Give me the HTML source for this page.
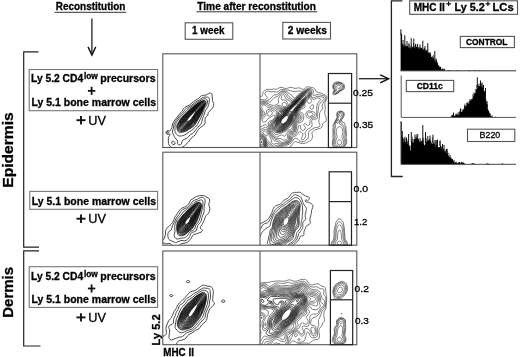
<!DOCTYPE html>
<html><head><meta charset="utf-8"><style>
html,body{margin:0;padding:0;background:#fff;overflow:hidden;width:520px;height:357px;}
svg{display:block;filter:blur(0.35px);}
text{font-family:"Liberation Sans",sans-serif;fill:#000;stroke:#000;stroke-width:0.3px;}
</style></head><body>
<svg width="520" height="357" viewBox="0 0 520 357">
<text x="55.8" y="10" font-size="10" font-weight="bold" textLength="69.6" lengthAdjust="spacingAndGlyphs" >Reconstitution</text>
<line x1="54.6" y1="12.3" x2="126.2" y2="12.3" stroke="#333" stroke-width="1"/>
<text x="197.3" y="9.6" font-size="10" font-weight="bold" textLength="118.6" lengthAdjust="spacingAndGlyphs" >Time after reconstitution</text>
<line x1="196.5" y1="11.8" x2="317.2" y2="11.8" stroke="#333" stroke-width="1"/>
<rect x="185.2" y="22.8" width="47.60000000000002" height="16.499999999999996" stroke="#555" stroke-width="1.1" fill="none"/>
<text x="192.1" y="34.2" font-size="10" font-weight="bold" textLength="32.3" lengthAdjust="spacingAndGlyphs" >1 week</text>
<rect x="282.8" y="22.4" width="47.69999999999999" height="16.6" stroke="#555" stroke-width="1.1" fill="none"/>
<text x="287.8" y="33.8" font-size="10" font-weight="bold" textLength="39.2" lengthAdjust="spacingAndGlyphs" >2 weeks</text>
<line x1="91.9" y1="18.5" x2="91.9" y2="54.5" stroke="#222" stroke-width="1.3"/>
<polyline points="88,46.9 91.9,55 95.7,46.9" fill="none" stroke="#111" stroke-width="1.4"/>
<polyline points="38.5,51.8 23.7,51.8 23.7,247.1 39,247.1" fill="none" stroke="#222" stroke-width="1.2"/>
<polyline points="39,250.9 23.7,250.9 23.7,346 40.5,346" fill="none" stroke="#222" stroke-width="1.2"/>
<text x="0" y="0" font-size="15.4" font-weight="bold" textLength="75.4" lengthAdjust="spacingAndGlyphs" transform="translate(12.7,187.7) rotate(-90)">Epidermis</text>
<text x="0" y="0" font-size="15.2" font-weight="bold" textLength="50.9" lengthAdjust="spacingAndGlyphs" transform="translate(12.7,317.8) rotate(-90)">Dermis</text>
<rect x="29.2" y="69.5" width="128.4" height="41.2" stroke="#777" stroke-width="1.1" fill="none"/>
<text x="31" y="82.0" font-size="10.3" font-weight="bold" textLength="52.2" lengthAdjust="spacingAndGlyphs" >Ly 5.2 CD4</text>
<text x="83.9" y="78.6" font-size="8.3" font-weight="bold" textLength="13.9" lengthAdjust="spacingAndGlyphs" >low</text>
<text x="100.3" y="82.0" font-size="10.4" font-weight="bold" textLength="55.3" lengthAdjust="spacingAndGlyphs" >precursors</text>
<line x1="87.89999999999999" y1="90.85" x2="95.3" y2="90.85" stroke="#111" stroke-width="1.8"/>
<line x1="91.6" y1="86.8" x2="91.6" y2="94.89999999999999" stroke="#111" stroke-width="1.8"/>
<text x="31.5" y="105.7" font-size="10.4" font-weight="bold" textLength="124.5" lengthAdjust="spacingAndGlyphs" >Ly 5.1 bone marrow cells</text>
<line x1="76.45" y1="120.2" x2="85.55" y2="120.2" stroke="#111" stroke-width="1.9"/>
<line x1="81.0" y1="116.0" x2="81.0" y2="124.4" stroke="#111" stroke-width="1.9"/>
<text x="88.2" y="124.89999999999999" font-size="12.5" font-weight="normal" textLength="17.7" lengthAdjust="spacingAndGlyphs" >UV</text>
<rect x="29.8" y="191.4" width="127.8" height="17.900000000000006" stroke="#777" stroke-width="1.1" fill="none"/>
<text x="31.7" y="204.7" font-size="10.4" font-weight="bold" textLength="124.3" lengthAdjust="spacingAndGlyphs" >Ly 5.1 bone marrow cells</text>
<line x1="76.45" y1="218.70000000000002" x2="85.55" y2="218.70000000000002" stroke="#111" stroke-width="1.9"/>
<line x1="81.0" y1="214.50000000000003" x2="81.0" y2="222.9" stroke="#111" stroke-width="1.9"/>
<text x="88.2" y="223.4" font-size="12.5" font-weight="normal" textLength="17.7" lengthAdjust="spacingAndGlyphs" >UV</text>
<rect x="29.2" y="266.7" width="128.4" height="40.69999999999999" stroke="#777" stroke-width="1.1" fill="none"/>
<text x="31" y="280.1" font-size="10.3" font-weight="bold" textLength="52.2" lengthAdjust="spacingAndGlyphs" >Ly 5.2 CD4</text>
<text x="83.9" y="276.70000000000005" font-size="8.3" font-weight="bold" textLength="13.9" lengthAdjust="spacingAndGlyphs" >low</text>
<text x="100.3" y="280.1" font-size="10.4" font-weight="bold" textLength="55.3" lengthAdjust="spacingAndGlyphs" >precursors</text>
<line x1="87.89999999999999" y1="288.5" x2="95.3" y2="288.5" stroke="#111" stroke-width="1.8"/>
<line x1="91.6" y1="284.45" x2="91.6" y2="292.55" stroke="#111" stroke-width="1.8"/>
<text x="31.5" y="303.0" font-size="10.4" font-weight="bold" textLength="124.5" lengthAdjust="spacingAndGlyphs" >Ly 5.1 bone marrow cells</text>
<line x1="76.45" y1="317.4" x2="85.55" y2="317.4" stroke="#111" stroke-width="1.9"/>
<line x1="81.0" y1="313.2" x2="81.0" y2="321.59999999999997" stroke="#111" stroke-width="1.9"/>
<text x="88.2" y="322.1" font-size="12.5" font-weight="normal" textLength="17.7" lengthAdjust="spacingAndGlyphs" >UV</text>
<clipPath id="c11"><rect x="162.8" y="53.8" width="97.19999999999999" height="93.7"/></clipPath><g clip-path="url(#c11)"><path d="M187.8,121.5 187.1,121.3 187.0,120.5 187.5,119.3 188.5,117.8 194.3,111.9 195.5,111.0 196.0,111.0 195.5,112.3 191.3,118.9 189.5,120.7 188.5,121.3 187.8,121.5 M187.8,122.1 186.8,122.1 186.5,121.8 186.4,121.3 186.7,120.0 187.8,118.3 189.7,116.0 194.5,111.2 196.0,110.0 197.0,109.7 197.1,110.3 196.5,111.4 191.8,118.8 189.8,120.9 187.8,122.1 M187.3,122.8 186.3,122.7 185.8,122.3 185.8,121.8 186.1,120.3 187.4,118.3 189.5,115.8 195.0,110.3 196.8,109.0 197.5,108.7 197.8,108.8 197.9,109.5 197.3,110.8 192.0,119.0 189.6,121.5 188.5,122.3 187.3,122.8 M187.3,123.3 186.5,123.5 185.8,123.4 185.4,123.0 185.2,122.5 185.5,120.8 186.8,118.5 189.1,115.8 195.0,109.9 197.3,108.2 198.0,107.9 198.5,108.0 198.7,108.8 198.0,110.3 192.4,119.0 189.8,121.8 188.5,122.7 187.3,123.3 M186.5,124.0 185.8,124.1 185.0,123.8 184.6,123.3 184.6,122.5 185.1,120.5 186.6,118.3 189.0,115.5 195.3,109.3 197.5,107.6 198.5,107.2 199.0,107.3 199.3,107.5 199.4,108.0 198.7,109.8 192.6,119.3 191.1,121.0 189.5,122.5 188.0,123.4 186.5,124.0 M186.5,124.6 185.5,124.7 184.7,124.5 184.2,124.0 184.0,123.3 184.1,122.3 184.5,121.0 186.0,118.5 188.8,115.3 195.5,108.7 198.3,106.8 199.3,106.6 199.8,106.8 199.9,107.8 199.2,109.5 193.0,119.3 191.5,121.1 189.8,122.7 188.0,123.9 186.5,124.6 M185.8,125.3 184.8,125.3 184.0,125.1 183.5,124.5 183.4,123.5 183.6,122.3 184.0,121.0 185.8,118.3 188.6,115.0 195.8,108.1 198.5,106.3 199.5,106.0 200.3,106.1 200.5,106.5 200.5,107.3 199.7,109.3 193.1,119.8 191.3,121.8 189.5,123.4 187.5,124.6 185.8,125.3 M185.8,125.8 184.5,126.0 183.7,125.8 183.0,125.1 182.8,124.3 182.9,123.0 183.3,121.8 185.2,118.5 188.2,115.0 195.8,107.8 198.8,105.8 200.0,105.4 200.8,105.6 201.1,106.0 201.1,106.8 200.3,108.8 193.5,119.7 191.8,121.8 189.8,123.6 187.8,125.0 185.8,125.8 M184.8,126.5 183.5,126.5 182.8,126.1 182.3,125.3 182.2,124.3 182.4,123.0 182.9,121.5 184.9,118.3 188.3,114.5 196.0,107.3 197.8,106.0 199.3,105.2 200.5,104.8 201.3,105.0 201.6,105.5 201.6,106.3 200.8,108.5 193.7,120.0 191.5,122.5 189.3,124.4 186.8,125.9 184.8,126.5 M185.0,127.0 183.5,127.2 182.5,126.9 181.8,126.0 181.6,125.0 181.8,123.5 182.3,122.0 184.3,118.5 187.9,114.5 196.0,106.9 197.8,105.6 199.5,104.7 200.8,104.3 201.8,104.5 202.1,105.0 202.2,105.8 201.4,108.0 195.6,117.8 194.1,120.0 192.0,122.5 189.5,124.7 187.3,126.1 185.0,127.0 M184.0,127.8 182.8,127.8 181.8,127.3 181.2,126.5 181.0,125.3 181.2,123.8 181.8,122.0 184.1,118.3 187.7,114.3 196.3,106.4 198.3,105.0 200.0,104.1 201.3,103.7 202.3,104.0 202.6,104.5 202.7,105.3 201.9,107.8 196.1,117.8 194.2,120.5 191.8,123.2 189.0,125.5 186.3,127.1 184.0,127.8 M184.3,128.3 182.8,128.4 181.5,128.1 180.8,127.3 180.4,126.0 180.6,124.3 181.2,122.5 182.2,120.5 183.7,118.3 187.5,114.0 196.5,105.9 198.5,104.5 200.3,103.6 201.8,103.2 202.8,103.5 203.1,104.0 203.2,105.0 202.3,107.5 196.6,117.5 194.8,120.3 192.3,123.2 189.5,125.6 186.8,127.3 184.3,128.3 M183.3,129.0 181.8,129.0 180.8,128.5 180.1,127.5 179.8,126.0 180.1,124.3 180.8,122.3 181.9,120.3 183.5,118.0 187.6,113.5 196.8,105.4 199.0,103.8 200.8,103.0 202.3,102.7 203.3,103.0 203.6,103.5 203.7,104.5 202.8,107.3 196.9,117.8 194.9,120.8 192.0,123.9 189.0,126.4 186.0,128.2 183.3,129.0 M183.8,129.5 182.0,129.7 180.5,129.3 179.6,128.3 179.2,127.0 179.4,125.0 180.0,123.3 181.0,121.0 182.7,118.5 184.7,116.0 187.2,113.5 196.8,105.0 199.0,103.5 201.0,102.5 202.8,102.2 203.8,102.5 204.1,103.0 204.2,104.0 203.5,106.5 197.6,117.3 195.7,120.3 193.2,123.3 190.0,126.1 186.8,128.3 183.8,129.5 M182.5,130.3 180.8,130.2 179.6,129.5 178.9,128.3 178.6,126.5 178.8,125.0 179.5,123.3 180.9,120.5 182.6,118.0 187.5,112.8 191.9,108.8 197.0,104.6 199.3,103.1 201.3,102.1 203.0,101.8 204.1,102.0 204.6,102.8 204.6,103.8 203.6,106.8 200.3,113.3 197.5,118.3 194.0,123.2 191.8,125.5 188.0,128.1 185.3,129.6 182.5,130.3 M183.0,130.8 180.8,130.9 179.4,130.3 178.4,128.8 177.9,126.8 178.0,125.5 178.4,124.3 182.1,118.0 186.3,113.6 191.0,109.1 197.0,104.3 199.3,102.9 201.8,101.7 203.5,101.3 204.5,101.5 205.0,102.3 205.1,103.3 203.9,106.5 200.4,114.0 197.2,119.5 194.2,124.0 191.9,126.3 187.3,129.2 185.3,130.2 183.0,130.8 M182.5,131.5 180.3,131.6 179.5,131.4 178.8,130.9 177.8,129.3 177.3,126.8 177.3,125.5 177.7,124.5 181.8,117.8 190.8,108.9 197.3,103.9 199.8,102.3 202.5,101.1 204.0,100.8 205.0,101.1 205.5,101.8 205.6,102.5 205.1,104.5 200.7,114.3 194.7,124.3 193.8,125.4 192.3,126.6 186.8,130.1 185.0,130.9 182.5,131.5 M181.5,132.5 180.5,132.6 179.5,132.5 178.8,132.1 178.1,131.5 177.2,129.5 176.7,126.5 176.8,125.3 177.2,124.3 181.5,117.5 190.5,108.7 197.3,103.6 199.5,102.2 203.0,100.5 204.3,100.3 205.3,100.6 205.9,101.3 206.1,102.0 206.0,103.0 205.7,104.0 203.3,108.9 201.0,114.5 195.2,124.5 194.3,125.6 192.8,126.9 186.8,130.8 185.3,131.4 181.5,132.5 M181.3,136.0 179.3,136.0 177.8,135.4 176.3,134.1 175.3,132.5 174.9,130.5 175.1,125.8 175.4,124.3 176.2,122.8 180.6,116.5 183.9,113.5 186.5,110.6 189.5,108.0 197.0,102.6 202.8,99.1 203.8,98.8 204.8,98.7 205.8,98.9 206.5,99.3 207.1,100.0 207.5,101.0 207.5,102.5 207.2,104.0 204.5,108.5 201.9,115.8 197.3,124.8 195.3,127.2 192.0,130.1 189.5,131.6 185.8,134.4 183.3,135.6 181.3,136.0 M179.8,145.0 178.6,144.8 177.6,143.8 177.5,143.3 177.6,141.8 177.4,140.8 174.2,136.5 172.5,132.5 172.5,131.0 173.4,128.0 173.9,124.3 174.7,122.5 179.4,116.0 182.8,112.7 185.2,109.5 186.3,108.5 191.5,105.3 195.5,102.1 199.6,99.8 202.5,97.6 203.8,97.2 205.3,97.1 207.5,97.1 208.5,97.4 209.2,98.3 209.4,99.5 209.2,102.0 208.7,104.5 207.7,107.3 205.8,110.0 205.0,111.6 203.9,115.3 202.4,119.0 201.7,122.5 201.1,123.8 196.6,128.8 193.5,132.8 192.8,133.4 190.3,134.5 188.3,137.1 187.3,138.0 183.8,139.5 183.0,140.0 182.2,141.3 181.4,144.0 180.6,144.8 179.8,145.0 M167.8,133.3 167.1,133.0 166.9,132.5 167.0,131.9 167.5,131.6 168.3,131.8 168.6,132.3 168.4,133.0 167.8,133.3 M173.8,144.5 172.5,144.3 171.8,143.3 171.8,142.0 172.5,141.1 173.0,141.1 173.8,141.4 174.8,142.3 175.3,143.0 175.3,143.5 175.0,144.0 173.8,144.5 M175.5,148.3 173.8,148.4 172.3,147.9 170.3,146.5 168.9,144.8 168.4,143.3 168.3,138.0 168.6,137.0 169.8,135.3 170.0,134.3 169.8,133.9 168.0,134.4 166.8,133.9 166.1,132.8 166.0,132.0 166.3,131.4 166.8,130.9 167.5,130.6 168.3,130.6 169.5,131.1 170.0,130.9 171.8,127.8 172.7,123.8 173.6,121.8 178.7,115.0 181.8,111.5 183.6,108.8 184.8,107.5 186.0,106.7 189.8,104.8 194.8,100.7 198.7,98.5 200.5,96.4 201.3,95.8 202.5,95.4 206.1,95.0 209.8,93.0 210.5,93.0 211.3,93.3 211.8,93.8 212.1,94.8 212.4,100.3 212.6,101.3 213.7,103.5 213.6,105.5 213.1,107.0 212.3,108.3 208.5,112.3 208.2,113.0 207.7,115.3 206.0,116.8 205.4,117.8 205.0,119.3 205.1,122.8 204.6,124.3 203.9,125.0 200.8,127.2 198.6,129.3 197.3,131.0 195.0,135.0 194.0,135.9 191.5,137.8 188.5,142.0 184.3,145.9 182.8,146.9 181.0,147.7 175.5,148.3" fill="none" stroke="#000" stroke-width="0.7" stroke-linejoin="round"/></g>
<clipPath id="c12"><rect x="260.0" y="53.8" width="96.80000000000001" height="93.7"/></clipPath><g clip-path="url(#c12)"><path d="M282.5,123.9 281.5,123.7 280.9,122.8 281.0,121.6 281.7,119.8 283.0,118.2 284.8,116.6 286.5,115.6 287.3,115.5 287.8,115.6 288.2,116.3 288.3,117.6 288.0,118.8 287.2,120.3 286.3,121.6 285.0,122.7 283.8,123.5 282.5,123.9 M282.0,124.6 280.8,124.2 280.4,123.8 280.2,123.1 280.5,121.3 281.4,119.6 283.0,117.6 285.0,115.9 287.3,114.6 288.0,114.5 288.5,114.6 289.0,115.6 288.9,117.3 288.5,118.8 287.6,120.6 286.4,122.1 285.0,123.3 283.5,124.2 282.0,124.6 M282.8,125.1 281.8,125.3 280.8,125.2 280.1,124.8 279.7,124.3 279.5,123.6 279.6,122.6 280.4,120.3 282.0,118.1 284.3,115.9 287.5,113.7 288.5,113.3 289.3,113.2 289.5,113.4 289.7,114.1 289.7,116.3 289.3,118.1 288.6,119.8 287.4,121.6 286.0,123.1 284.3,124.4 282.8,125.1 M282.3,125.9 281.3,126.1 280.3,125.9 279.5,125.5 279.0,124.8 278.8,123.8 278.9,122.8 279.3,121.6 280.0,120.1 281.6,117.8 284.0,115.6 287.5,113.0 291.0,111.0 291.2,111.3 290.2,117.1 289.6,118.8 288.8,120.3 287.4,122.3 285.8,123.9 284.0,125.2 282.3,125.9 M282.0,126.6 280.8,126.8 279.5,126.6 278.8,126.1 278.2,125.1 278.1,123.8 278.3,122.6 278.9,121.1 279.9,119.3 282.8,116.1 289.8,110.6 295.0,105.3 296.5,104.1 297.3,103.8 297.6,103.8 297.7,104.3 297.1,105.6 293.1,110.3 292.1,111.8 291.4,113.6 290.5,118.1 288.9,121.1 287.5,122.9 285.8,124.6 283.8,125.9 282.0,126.6 M281.8,127.4 280.3,127.6 279.0,127.3 278.0,126.6 277.5,125.6 277.4,124.3 277.7,122.8 278.3,121.1 279.4,119.3 282.3,116.0 289.3,110.3 295.3,104.3 297.5,102.6 298.5,102.2 299.0,102.2 299.3,102.6 299.2,103.1 298.3,104.8 293.9,110.3 292.7,112.1 292.0,113.8 291.0,118.1 289.3,121.3 287.7,123.3 285.8,125.2 283.8,126.5 281.8,127.4 M280.0,128.3 278.8,128.2 277.7,127.6 277.0,126.6 276.7,125.3 276.8,123.8 277.3,122.1 278.2,120.3 279.3,118.6 282.0,115.6 288.8,110.2 295.8,103.3 298.5,101.4 299.5,101.0 300.3,101.1 300.5,101.6 300.4,102.1 299.4,104.1 294.5,110.3 293.3,112.1 292.7,113.6 291.5,118.3 290.7,120.1 289.4,122.1 287.3,124.5 284.8,126.6 282.3,127.9 280.0,128.3 M280.5,129.1 278.8,129.1 277.5,128.6 276.5,127.7 276.0,126.3 276.0,124.8 276.4,122.8 277.3,120.8 278.5,118.8 281.6,115.3 288.5,109.8 296.3,102.4 299.5,100.2 300.5,99.9 301.3,100.0 301.5,100.3 301.5,101.1 300.4,103.3 298.9,105.6 295.0,110.3 293.9,112.1 293.3,113.6 292.2,118.1 291.3,120.1 290.0,122.1 287.8,124.8 285.3,127.0 282.8,128.4 280.5,129.1 M280.8,129.9 279.0,130.0 277.3,129.6 276.0,128.6 275.4,127.3 275.2,125.6 275.6,123.3 276.4,121.3 277.8,119.1 279.3,117.1 281.3,115.0 288.3,109.5 296.0,102.1 298.3,100.4 300.0,99.3 301.5,98.8 302.3,99.1 302.5,99.6 302.4,100.3 301.3,102.8 299.4,105.6 295.9,109.8 294.6,111.8 294.0,113.4 292.9,117.8 291.9,120.1 290.5,122.3 288.3,125.0 285.8,127.3 283.0,129.1 280.8,129.9 M280.5,130.6 278.3,130.8 276.5,130.2 275.2,129.1 274.3,127.3 273.9,125.3 274.1,124.1 274.6,122.8 276.9,119.6 281.0,113.8 284.5,111.8 287.7,109.6 294.0,103.6 298.5,99.8 301.3,98.1 302.3,97.7 303.0,97.8 303.3,98.1 303.4,98.8 302.7,101.1 300.6,104.6 296.8,109.2 295.5,111.1 294.7,113.1 294.5,116.1 294.3,117.1 291.6,121.6 288.9,125.1 286.5,127.4 283.5,129.5 280.5,130.6 M279.0,131.6 276.8,131.4 275.8,131.0 274.8,130.1 273.3,127.6 272.8,126.1 272.7,124.8 272.9,124.1 273.4,123.1 276.0,119.9 278.1,116.8 279.8,113.1 280.5,112.5 283.8,111.6 286.4,110.1 288.8,108.2 293.3,103.8 300.0,98.2 302.3,96.8 303.3,96.5 304.0,96.7 304.5,97.3 304.3,98.3 302.2,102.8 300.7,105.1 297.0,109.4 295.8,111.4 295.3,113.3 295.6,116.6 295.3,117.6 294.7,118.6 289.6,125.3 287.5,127.5 285.0,129.3 283.0,130.4 281.0,131.2 279.0,131.6 M261.3,142.9 260.9,142.6 260.8,142.1 261.0,141.6 261.3,141.4 261.6,141.6 261.8,142.1 261.6,142.6 261.3,142.9 M278.5,132.6 277.0,132.7 276.0,132.5 275.0,131.9 274.3,131.2 273.3,129.8 272.4,128.1 271.8,126.3 271.6,125.1 271.8,124.1 272.1,123.3 275.3,120.1 277.3,117.2 277.9,115.6 278.4,113.1 278.9,112.1 279.4,111.6 280.0,111.3 282.3,111.3 283.5,111.1 286.1,109.8 288.5,108.1 292.2,104.3 301.0,96.8 302.3,96.1 303.5,95.6 304.5,95.5 305.3,95.8 305.6,96.6 305.3,97.8 301.9,104.1 300.9,105.6 297.5,109.2 296.3,111.3 296.0,113.1 296.5,116.6 296.2,117.8 289.9,126.8 288.8,128.0 283.8,130.9 281.3,132.0 278.5,132.6 M262.0,145.1 261.3,145.2 260.5,144.8 259.7,143.8 259.2,142.6 259.3,141.3 259.8,140.1 260.5,139.2 261.3,138.9 262.0,139.1 262.5,139.5 263.0,140.3 263.3,141.3 263.0,143.6 262.5,144.6 262.0,145.1" fill="none" stroke="#000" stroke-width="0.7" stroke-linejoin="round"/><path d="M277.0,134.7 276.0,134.8 275.3,134.4 273.3,132.1 271.3,128.1 270.7,126.3 270.6,124.8 270.8,123.8 271.2,123.1 274.5,120.1 276.4,117.6 277.0,116.0 277.4,112.6 278.1,111.1 278.8,110.4 279.5,110.2 282.0,110.6 283.5,110.5 286.2,109.3 288.3,107.8 291.6,104.3 296.3,100.6 301.0,96.3 302.5,95.4 304.0,94.8 305.5,94.6 306.2,94.8 306.6,95.3 306.6,96.1 305.9,98.1 303.8,101.4 301.5,105.3 298.0,109.1 296.8,111.1 296.5,112.8 297.3,116.1 297.3,117.6 296.8,118.6 294.4,121.6 292.8,124.1 292.3,125.6 292.1,127.8 291.7,128.8 290.8,129.6 287.5,130.2 283.8,132.2 279.4,133.6 277.0,134.7 M262.3,146.4 261.3,146.4 260.0,145.5 258.9,144.1 258.4,142.6 258.5,141.1 259.1,139.3 260.0,138.2 261.0,137.7 262.0,137.9 263.0,138.7 263.7,139.8 264.0,141.1 264.0,142.6 263.6,144.3 263.0,145.7 262.3,146.4 M277.5,136.9 276.3,137.0 275.2,136.6 274.1,135.6 272.8,133.8 271.8,132.0 270.9,129.8 269.8,126.6 269.5,124.6 269.7,123.6 270.2,122.6 274.0,119.8 275.5,117.8 276.2,115.8 276.2,112.6 277.1,110.3 278.0,109.4 278.8,109.1 279.8,109.1 281.8,109.8 283.0,109.9 284.5,109.6 286.3,108.8 288.3,107.3 291.2,104.1 295.5,100.8 301.0,95.8 302.5,94.9 304.8,94.0 306.3,93.6 307.0,93.7 307.5,94.3 307.6,95.3 307.3,96.6 306.8,97.8 304.0,101.6 301.9,105.6 298.6,108.8 297.3,110.8 297.0,111.8 297.1,112.8 298.2,116.1 298.2,117.6 297.7,118.8 295.2,121.6 294.0,123.6 293.5,125.3 293.2,128.3 292.6,129.8 291.5,130.8 288.5,131.5 287.3,132.2 286.4,133.3 285.5,135.5 285.0,136.1 284.3,136.2 282.3,135.1 281.3,135.0 280.1,135.3 277.5,136.9 M269.3,116.1 268.4,116.1 267.9,115.6 267.6,114.6 267.7,113.3 268.1,112.1 268.7,111.3 269.5,110.9 270.3,110.8 271.0,111.1 271.9,111.8 272.3,112.6 272.3,113.3 272.0,114.1 271.1,115.1 270.3,115.7 269.3,116.1 M258.0,140.3 258.7,138.6 259.5,137.4 260.3,136.9 261.3,136.8 262.5,137.3 263.8,138.6 264.4,139.8 264.7,141.6 264.4,143.6 263.8,145.6 263.0,147.1 262.3,147.6 261.3,147.4 260.0,146.5 258.7,144.8 258.0,143.4 M284.5,140.1 283.0,140.1 281.1,138.8 280.3,138.5 276.8,138.4 275.0,137.9 274.0,137.1 272.8,135.6 271.4,133.6 270.7,132.1 268.3,124.8 268.1,122.8 268.5,122.1 269.1,121.6 272.8,119.8 274.0,118.8 274.6,117.8 274.9,116.8 274.9,115.8 274.5,115.2 274.0,115.0 273.3,115.3 268.0,118.8 267.2,119.6 266.1,121.1 265.4,121.6 264.5,121.9 263.5,122.0 262.8,121.7 262.4,121.3 262.2,120.1 262.7,118.8 263.5,117.8 265.2,116.3 265.8,115.3 266.7,110.6 267.8,109.7 269.8,109.2 271.0,109.5 273.5,110.9 274.5,111.1 275.3,110.7 277.3,108.5 278.0,108.1 278.8,107.9 279.8,108.0 282.8,109.2 284.0,109.2 285.3,108.8 287.7,107.3 290.8,103.8 295.4,100.6 301.0,95.3 302.5,94.4 306.0,92.9 307.0,92.7 307.8,92.8 308.3,93.6 308.3,94.6 308.1,96.3 307.5,97.8 304.3,101.9 302.2,105.8 299.0,108.9 297.8,110.8 297.6,112.6 298.0,113.8 299.2,116.1 299.3,117.8 298.7,119.1 296.0,121.6 294.9,123.3 294.4,124.8 294.1,128.1 293.6,129.8 293.0,130.8 292.3,131.4 289.3,132.5 288.3,133.2 287.8,133.8 287.5,134.8 287.3,137.6 287.1,138.6 286.3,139.5 284.5,140.1 M258.0,138.5 258.8,137.1 259.8,136.2 260.8,135.9 262.0,136.3 263.3,137.1 264.3,138.3 265.0,139.8 265.2,141.6 265.0,143.6 264.3,145.8 263.5,147.7 262.8,148.5 261.8,148.5 260.8,148.0 259.3,146.4 258.0,144.7 M283.0,142.4 281.3,142.2 278.7,140.3 275.3,139.3 273.8,138.3 270.6,134.1 268.0,127.2 267.3,126.0 266.5,125.3 265.5,124.9 264.5,125.0 262.8,125.7 259.8,127.3 259.0,127.4 258.5,127.1 258.3,126.1 259.6,121.3 261.6,118.1 264.1,115.1 264.6,113.8 264.4,112.3 262.7,110.1 262.0,108.6 261.7,107.3 261.9,106.3 262.4,105.6 263.0,105.2 263.8,105.0 264.8,105.0 265.8,105.6 267.0,106.9 267.8,107.4 270.5,107.9 273.8,109.2 274.8,109.0 277.3,107.1 278.8,106.7 280.0,106.9 282.8,108.4 283.8,108.5 285.0,108.3 286.5,107.6 287.8,106.6 290.0,103.3 293.0,101.8 294.9,100.6 299.5,96.1 301.0,94.9 306.5,92.1 307.5,91.8 308.3,91.9 308.9,92.6 309.0,93.8 308.7,96.3 308.1,98.1 307.5,98.9 304.8,101.8 302.5,106.3 299.4,109.1 298.3,110.8 298.1,111.8 298.3,112.8 300.2,115.3 300.6,116.3 300.6,117.8 300.2,119.1 299.3,120.1 296.8,121.9 295.8,123.2 295.2,124.8 294.8,128.8 293.8,131.2 292.5,132.3 289.8,133.5 288.9,134.3 288.6,135.6 288.6,138.6 288.3,139.6 286.7,140.8 284.5,141.9 283.0,142.4 M258.0,136.9 258.8,135.8 259.8,135.1 261.0,135.1 262.3,135.7 263.8,136.8 264.8,138.1 265.5,139.6 265.7,141.3 265.5,143.6 264.6,146.6 263.8,148.3 263.0,149.3 262.0,149.4 261.0,149.0 259.5,147.5 258.0,145.6 M258.0,120.4 259.8,118.9 261.6,116.6 262.6,115.1 263.1,113.8 263.0,113.1 262.7,112.1 259.2,106.3 259.4,105.6 260.2,105.1 262.8,104.0 265.0,103.9 266.3,104.3 268.8,105.9 273.8,107.4 274.8,107.2 277.8,105.6 279.5,105.3 280.5,105.7 283.0,107.5 284.0,107.7 285.0,107.6 286.3,107.1 287.3,106.3 288.0,105.1 288.1,104.1 287.5,102.7 285.8,100.2 284.8,99.9 282.0,100.0 281.3,99.4 281.2,98.3 281.5,96.8 282.1,95.3 282.8,94.6 283.5,94.5 284.2,95.1 285.5,98.1 286.3,99.2 289.0,100.4 290.8,101.5 291.8,101.7 293.0,101.3 295.0,100.1 299.5,95.6 301.8,94.0 307.3,91.2 308.5,91.2 309.4,91.8 309.6,92.6 309.6,93.8 308.9,98.3 308.6,99.3 306.5,100.7 305.5,101.6 304.5,103.1 303.5,106.1 303.0,106.8 300.0,109.1 299.3,110.0 298.9,110.8 298.8,111.8 299.3,112.8 301.4,114.6 302.0,115.6 302.0,117.6 301.6,119.6 300.6,120.8 297.8,122.2 296.5,123.5 296.0,124.8 295.6,128.6 294.8,131.1 294.2,132.1 293.5,132.7 290.8,134.1 290.0,134.8 289.6,135.8 289.5,139.1 289.1,140.1 288.3,140.9 284.3,143.0 283.0,143.4 282.0,143.5 280.1,143.1 277.3,141.4 274.3,140.8 273.3,139.8 270.0,134.8 267.5,128.8 266.8,127.8 266.0,127.3 265.3,127.3 264.5,127.5 259.8,129.9 258.8,130.0 258.0,129.7 M309.5,116.6 308.8,116.4 308.3,116.0 307.8,115.3 307.4,114.3 307.5,113.6 307.8,112.8 308.3,112.4 309.0,112.1 310.3,112.3 311.8,112.9 312.7,113.6 313.1,114.3 312.8,115.1 312.0,115.7 310.8,116.3 309.5,116.6 M258.0,135.1 258.5,134.4 259.3,133.9 260.0,133.9 261.3,134.3 262.8,135.2 264.1,136.3 265.2,137.6 265.9,138.8 266.3,140.8 266.1,143.1 264.6,147.8 263.6,149.6 M260.9,149.6 258.0,146.3 M258.0,104.1 262.0,103.1 264.8,102.9 266.8,103.2 270.0,104.6 273.0,105.4 274.5,105.4 276.0,104.8 277.7,103.8 278.4,103.1 278.6,102.1 278.2,99.8 278.4,98.8 281.2,93.8 281.8,93.3 282.5,92.9 283.8,92.9 285.0,93.5 285.7,94.3 286.8,96.6 287.6,97.6 291.5,100.4 292.5,100.8 293.8,100.4 295.1,99.6 299.3,95.4 300.8,94.2 306.5,91.0 307.8,90.5 308.8,90.5 309.8,91.0 310.2,91.8 310.3,92.8 309.9,95.8 309.8,97.3 310.2,98.3 311.6,100.3 311.7,101.1 311.5,101.8 310.3,103.1 309.0,103.5 308.5,103.3 307.5,101.7 307.0,101.5 306.3,101.8 305.5,102.6 304.9,103.8 304.8,104.8 305.1,106.3 304.8,107.1 303.8,108.1 301.0,109.4 300.0,110.3 299.8,111.1 300.1,111.8 300.8,112.3 302.8,113.3 303.7,114.6 303.8,116.6 303.4,119.6 302.6,121.1 301.8,122.0 300.8,122.5 298.4,123.1 297.3,124.1 296.9,125.1 296.5,128.6 295.4,132.1 294.3,133.5 291.8,134.7 291.0,135.4 290.7,136.3 290.4,139.1 289.7,140.6 288.0,141.9 284.5,143.8 283.0,144.3 280.8,144.4 276.8,143.3 276.0,143.4 274.3,144.2 273.3,144.1 272.3,143.4 271.6,142.3 270.9,138.8 269.1,135.3 267.3,130.6 266.8,129.9 266.0,129.4 265.3,129.3 264.0,129.6 261.6,130.8 261.2,131.3 260.9,132.1 261.0,132.6 261.6,133.3 264.5,135.8 265.7,137.1 266.4,138.1 266.9,139.3 267.0,141.1 266.7,142.8 265.1,147.8 264.2,149.6 M285.3,106.6 286.0,106.2 286.5,105.6 286.7,104.8 286.5,104.0 285.8,103.0 284.8,102.4 283.8,102.3 283.0,102.6 282.4,103.1 282.1,103.8 282.1,104.6 282.4,105.3 283.0,106.1 283.8,106.6 285.3,106.6 M258.0,118.9 259.3,118.1 260.8,116.4 261.7,114.8 261.9,113.6 261.6,112.1 260.5,110.1 259.5,108.9 258.0,108.0 M308.5,118.3 307.8,118.1 307.0,117.3 305.8,114.8 305.8,114.1 306.0,113.1 307.0,111.6 308.0,110.9 309.3,110.8 313.8,112.0 314.5,112.4 315.0,113.3 315.2,114.3 315.0,115.1 314.5,115.8 309.8,118.0 308.5,118.3 M260.1,149.6 258.0,147.0 M258.0,102.8 261.8,102.1 269.5,102.0 270.5,101.8 271.1,101.3 272.5,99.3 273.4,98.3 274.8,97.5 278.0,96.1 278.8,95.3 280.8,92.5 281.5,92.0 282.5,91.7 284.5,91.9 286.1,92.6 286.9,93.3 288.2,95.6 289.1,96.6 292.5,99.4 293.0,99.6 293.8,99.6 295.5,98.5 298.8,95.1 300.5,93.7 306.5,90.4 308.5,89.8 310.0,90.1 310.9,91.1 311.1,92.1 310.6,95.3 310.6,96.6 311.1,97.6 312.3,98.7 313.5,99.5 314.3,99.5 316.5,98.2 318.0,97.9 320.0,98.6 320.7,99.3 320.3,100.1 317.8,103.1 317.0,105.1 316.8,106.8 316.6,115.1 316.3,116.6 315.3,117.4 312.0,118.3 310.7,119.3 310.1,120.6 309.7,124.1 309.3,125.0 308.8,125.4 308.3,125.5 307.5,125.4 305.3,123.5 304.5,123.6 304.0,124.0 303.7,124.6 303.7,125.1 305.0,126.6 305.3,127.6 305.0,128.8 304.3,129.9 303.5,130.4 302.8,130.5 302.0,130.3 301.4,129.8 300.9,129.1 300.6,128.3 300.7,125.8 300.3,125.3 299.3,125.2 298.7,125.8 298.1,128.1 296.2,133.6 295.1,134.6 293.0,135.5 292.3,136.1 291.8,136.9 290.8,140.3 290.1,141.3 289.3,142.0 284.5,144.8 283.3,145.3 281.5,145.4 277.5,145.1 274.0,146.2 273.3,146.0 272.5,145.6 269.5,142.1 269.0,141.7 268.5,141.6 268.0,142.0 267.3,143.4 264.8,149.6 M312.7,109.1 313.3,108.1 313.5,106.3 313.4,105.1 312.8,104.6 311.8,105.0 310.8,105.8 310.1,106.8 309.9,107.8 310.2,108.6 310.9,109.1 311.8,109.3 312.7,109.1 M258.0,117.6 259.0,117.0 260.0,115.9 260.7,114.6 260.9,113.6 260.6,112.3 260.0,111.0 259.1,110.1 258.0,109.4 M267.1,135.6 267.3,134.8 267.1,133.6 266.8,132.5 266.3,131.7 265.8,131.3 265.0,131.1 264.3,131.2 263.5,131.6 263.1,132.1 263.0,132.6 263.7,133.8 266.0,135.6 266.8,135.8 267.1,135.6 M259.4,149.6 258.0,147.8 M258.0,101.7 260.3,101.2 265.5,101.1 268.0,100.4 269.7,99.3 273.5,95.3 274.5,94.9 276.5,94.8 277.5,94.4 278.3,93.9 280.3,91.6 281.0,91.1 282.0,90.8 284.8,91.0 287.3,91.8 290.0,94.2 292.2,95.6 293.6,97.8 294.0,98.1 294.5,98.1 295.5,97.5 298.2,94.6 299.8,93.3 303.6,91.6 306.8,89.7 308.5,89.2 310.5,89.5 311.3,90.0 311.7,90.6 311.9,91.8 311.3,94.6 311.3,95.8 311.7,96.8 312.5,97.5 313.3,97.7 314.0,97.7 316.8,96.5 318.5,96.4 323.3,97.3 324.0,97.7 324.4,98.3 324.2,99.1 323.8,99.8 320.0,103.2 319.3,104.2 318.8,105.3 318.5,106.8 318.3,109.8 317.8,112.8 317.7,116.6 317.3,118.1 316.8,118.8 316.3,119.1 313.3,119.2 312.5,119.5 312.0,120.1 311.7,121.3 312.1,124.8 311.8,126.3 311.4,127.1 310.6,127.8 308.3,128.9 307.3,129.6 305.7,131.6 305.1,132.6 305.0,133.3 305.7,135.3 305.7,136.6 305.1,137.8 304.0,139.0 303.3,139.6 302.5,139.8 301.8,139.7 301.4,139.3 301.4,138.3 302.9,135.1 303.1,133.8 302.5,133.1 301.4,132.3 300.0,131.8 299.3,131.7 298.5,132.3 297.4,134.3 296.5,135.3 295.6,135.8 293.8,136.6 293.0,137.1 292.5,137.9 291.5,140.6 290.3,142.1 286.9,144.1 284.3,145.9 282.8,146.3 278.3,146.4 277.0,146.7 274.8,147.7 273.8,147.8 272.5,147.1 269.5,144.0 268.5,143.7 268.0,143.9 267.3,144.9 265.3,149.6 M258.0,116.5 259.3,115.3 259.8,114.5 259.9,113.6 259.8,112.6 259.4,111.8 258.8,111.0 258.0,110.5 M258.9,149.6 258.0,148.5 M258.0,100.1 259.3,99.6 260.5,99.5 264.5,100.0 265.8,99.6 266.5,99.1 267.1,98.3 267.2,97.3 266.8,96.6 265.2,94.8 264.9,93.6 265.4,92.3 266.5,91.4 268.3,91.1 271.0,91.7 273.8,91.6 276.8,92.1 278.0,91.6 280.3,89.8 281.5,89.4 288.5,90.2 292.2,91.3 295.5,91.7 298.8,90.9 301.3,91.2 302.5,91.1 303.9,90.6 307.5,88.5 308.8,88.3 310.3,88.4 312.2,89.1 313.2,90.1 313.4,91.6 312.8,94.6 312.9,95.1 313.3,95.4 314.0,95.5 317.0,94.7 319.5,94.7 324.5,96.1 325.3,96.6 325.7,97.3 325.8,98.3 325.4,99.6 322.9,103.6 322.2,105.3 322.1,106.3 322.9,108.1 322.8,108.8 320.5,111.2 319.6,113.3 319.4,117.6 318.8,121.1 318.9,122.1 319.9,124.8 319.9,125.8 319.4,126.6 318.0,127.3 315.3,127.6 314.3,127.9 309.2,131.1 308.7,131.8 308.3,132.8 308.6,136.6 308.4,137.8 307.4,139.1 304.3,141.4 302.5,141.9 300.8,141.6 299.0,140.6 297.3,138.5 296.3,138.2 295.0,138.3 293.8,139.0 292.0,141.8 291.0,143.0 290.0,143.7 287.4,145.1 286.6,145.8 285.3,147.6 284.8,148.0 283.8,148.2 281.3,147.8 279.5,147.9 278.0,148.4 275.5,149.6 M258.0,114.1 258.0,113.0 M272.8,149.6 270.0,146.3 268.8,145.6 268.0,145.8 267.5,146.4 266.0,149.6 M258.0,98.0 260.8,96.8 261.8,96.3 262.4,95.3 262.9,92.8 263.5,91.6 265.0,90.3 267.0,89.4 268.3,89.3 271.0,89.4 273.8,89.0 276.5,89.2 277.5,88.9 279.5,87.7 281.0,87.4 282.3,87.6 284.8,88.4 286.3,88.5 291.0,87.2 292.0,87.4 294.0,88.2 295.0,88.4 299.0,87.8 299.8,88.0 301.8,89.1 303.0,89.3 304.4,88.8 306.8,86.9 307.5,86.7 312.5,87.6 313.8,88.1 314.9,89.1 316.0,91.2 316.8,92.0 320.3,92.9 325.0,95.0 325.9,95.6 326.5,96.3 326.8,97.3 326.6,98.6 325.1,102.3 324.8,103.8 324.8,104.8 325.4,108.6 324.6,113.3 324.9,114.6 326.2,117.8 326.3,120.0 325.9,121.1 325.3,122.0 323.3,123.1 322.7,123.6 322.1,126.3 321.7,127.3 321.0,127.9 320.0,128.4 315.3,129.7 313.8,130.6 312.5,131.8 312.0,132.6 311.9,133.3 312.5,135.8 312.3,137.8 311.6,139.6 310.5,140.7 305.8,143.0 303.5,143.6 301.0,143.3 295.8,141.7 294.5,141.8 293.3,142.9 291.3,146.0 289.0,147.2 287.0,149.6 M270.7,149.6 269.5,148.2 268.8,147.8 268.0,148.0 266.9,149.6" fill="none" stroke="#000" stroke-width="0.5" stroke-linejoin="round"/></g>
<clipPath id="c21"><rect x="162.8" y="152.2" width="97.19999999999999" height="93.0"/></clipPath><g clip-path="url(#c21)"><path d="M186.5,224.2 185.5,224.3 185.1,223.7 185.1,222.7 185.7,221.2 186.7,219.7 188.0,218.3 189.5,217.1 190.5,216.9 190.6,217.4 190.5,218.4 189.3,221.4 188.0,223.1 186.5,224.2 M186.0,225.0 185.0,224.9 184.5,224.0 184.6,222.7 185.3,221.1 186.5,219.4 188.0,217.8 190.5,215.7 191.6,215.2 191.7,215.7 191.3,217.4 189.5,221.7 187.8,223.9 186.0,225.0 M186.3,225.4 185.5,225.6 184.8,225.6 184.3,225.2 184.1,224.7 184.1,223.2 184.8,221.2 186.0,219.4 187.5,217.7 191.8,213.7 193.0,213.0 193.2,213.4 193.0,214.3 190.1,221.4 188.3,224.0 187.3,224.9 186.3,225.4 M185.8,226.2 185.0,226.3 184.3,226.1 183.8,225.7 183.5,225.1 183.6,223.2 184.5,221.0 185.8,219.1 187.5,217.2 192.5,212.2 193.3,211.7 194.0,211.4 194.4,211.9 194.0,213.4 190.3,221.8 189.3,223.3 188.1,224.7 187.0,225.6 185.8,226.2 M185.0,226.9 184.3,226.9 183.5,226.5 183.0,225.2 183.2,223.2 184.3,220.7 186.3,218.0 192.3,211.8 193.8,210.6 194.5,210.3 194.9,210.4 195.2,211.2 194.8,212.8 190.3,222.4 189.1,224.2 187.8,225.5 186.3,226.5 185.0,226.9 M185.3,227.4 184.3,227.6 183.5,227.4 183.0,226.9 182.5,225.9 182.6,223.7 183.8,220.8 186.0,217.8 192.5,211.0 194.3,209.7 195.0,209.4 195.5,209.6 195.9,210.4 195.5,212.2 190.9,222.2 189.7,223.9 188.3,225.6 186.8,226.8 185.3,227.4 M184.5,228.2 183.5,228.1 182.8,227.8 182.3,227.2 182.0,226.2 181.9,224.9 182.2,223.7 183.5,220.5 185.8,217.5 192.5,210.5 194.5,208.9 195.3,208.7 196.0,208.8 196.3,209.2 196.5,209.9 196.0,211.9 191.0,222.7 189.5,224.8 187.8,226.5 186.0,227.7 184.5,228.2 M184.8,228.7 183.8,228.8 182.8,228.6 182.0,227.9 181.5,226.9 181.4,225.7 181.6,224.2 182.2,222.4 183.0,220.7 185.5,217.3 192.8,209.8 195.0,208.1 195.8,207.9 196.5,208.1 196.8,208.4 197.0,209.2 196.6,211.4 191.6,222.4 190.0,224.7 188.3,226.6 186.5,228.0 184.8,228.7 M184.0,229.4 182.8,229.4 181.9,228.9 181.3,228.1 180.9,226.9 180.9,225.4 181.2,223.9 182.8,220.4 185.4,216.9 192.8,209.3 195.3,207.5 196.3,207.3 196.9,207.4 197.4,207.9 197.5,208.7 197.1,211.2 191.7,222.9 190.0,225.4 188.0,227.4 186.0,228.8 184.0,229.4 M184.3,230.0 183.0,230.1 181.8,229.7 180.9,228.9 180.5,227.7 180.4,226.2 180.7,224.4 181.2,222.7 182.2,220.7 183.5,218.7 185.0,216.7 192.8,208.8 195.3,207.0 196.5,206.6 197.3,206.8 197.8,207.3 198.0,208.2 197.6,210.7 192.3,222.7 190.5,225.3 188.5,227.5 186.3,229.1 184.3,230.0 M183.5,230.7 182.3,230.7 181.1,230.2 180.3,229.2 179.9,227.9 179.9,226.2 180.2,224.4 180.9,222.4 181.9,220.4 183.2,218.4 184.9,216.4 193.0,208.2 194.5,207.0 195.8,206.3 197.0,206.0 197.8,206.2 198.3,206.8 198.5,207.7 198.4,208.9 198.1,210.4 193.9,220.2 192.4,223.2 190.5,225.9 188.3,228.2 185.8,229.9 183.5,230.7 M184.0,231.2 182.3,231.4 181.0,231.0 180.1,230.2 179.5,228.9 179.3,227.2 179.6,225.2 180.3,222.9 181.3,220.7 182.8,218.4 184.6,216.2 192.8,208.0 194.3,206.7 195.8,205.8 197.0,205.4 198.0,205.6 198.7,206.2 198.9,207.2 198.9,208.4 198.6,209.9 197.6,212.4 193.1,222.7 191.2,225.7 189.0,228.2 186.5,230.1 184.0,231.2 M183.3,231.9 181.5,231.9 180.3,231.4 179.4,230.4 178.9,228.9 178.8,227.2 179.2,224.9 180.0,222.7 181.2,220.2 182.7,217.9 184.6,215.7 193.0,207.3 194.8,205.9 196.3,205.1 197.5,204.8 198.5,205.1 199.1,205.7 199.4,206.9 199.3,208.2 198.9,209.9 194.6,220.4 193.1,223.4 191.0,226.5 188.5,229.1 185.8,231.0 183.3,231.9 M183.5,232.5 181.8,232.6 180.5,232.4 179.3,231.5 178.5,230.1 178.3,228.2 178.5,225.7 179.4,222.9 180.5,220.7 182.0,218.2 184.3,215.4 193.0,206.9 194.8,205.5 196.3,204.7 197.8,204.3 198.8,204.5 199.5,205.2 199.8,206.2 199.8,207.7 199.4,209.4 195.2,220.2 193.7,223.2 191.4,226.7 189.1,229.2 186.3,231.3 183.5,232.5 M183.5,233.2 181.8,233.3 180.0,232.8 179.0,231.9 178.2,230.4 177.9,228.4 178.1,225.9 178.7,223.4 179.7,221.2 181.7,218.2 184.3,215.0 193.5,206.1 195.3,204.7 196.8,204.0 198.3,203.7 199.3,204.0 199.9,204.7 200.2,205.7 200.3,207.2 199.9,208.9 198.8,212.5 194.9,221.9 192.0,226.6 190.6,228.4 186.8,231.5 185.0,232.6 183.5,233.2 M183.5,234.0 181.8,234.1 180.0,233.7 178.8,232.7 178.0,231.2 177.5,228.9 177.6,226.2 178.1,223.7 179.0,221.4 180.9,218.7 184.5,214.3 194.0,205.2 195.5,204.1 197.0,203.5 198.5,203.2 199.5,203.5 200.3,204.2 200.6,205.2 200.7,206.7 200.4,208.4 199.0,213.1 195.9,221.2 192.2,227.2 191.2,228.4 186.3,232.5 184.8,233.4 183.5,234.0 M182.5,234.9 180.5,234.9 179.3,234.4 178.4,233.4 177.6,231.7 177.1,228.9 177.2,225.4 177.6,223.4 178.5,221.2 179.5,219.7 184.5,213.8 194.3,204.6 195.8,203.6 197.3,203.0 198.8,202.7 200.0,203.0 200.6,203.7 201.0,204.7 201.1,206.2 200.8,207.9 199.2,213.9 196.4,221.2 192.5,227.7 191.6,228.7 185.3,233.9 184.0,234.5 182.5,234.9 M181.8,235.7 179.5,235.7 178.5,235.3 177.8,234.4 177.3,232.7 176.7,229.4 176.7,225.2 177.1,223.2 178.2,220.7 184.5,213.2 190.9,207.4 194.3,204.1 195.8,203.1 197.5,202.5 199.3,202.3 200.5,202.6 201.1,203.2 201.4,204.4 201.2,207.9 199.4,214.7 196.9,221.2 192.3,228.7 189.4,230.9 185.3,234.6 183.8,235.3 181.8,235.7 M178.5,238.9 177.0,239.0 175.8,238.5 174.7,237.2 174.1,235.4 175.0,231.7 174.7,226.7 174.8,225.2 175.4,223.4 177.2,219.4 178.1,218.2 180.9,215.2 183.3,211.8 186.5,209.6 189.6,207.2 194.0,202.5 195.8,201.6 200.5,200.0 201.3,199.8 202.0,200.0 202.5,200.5 202.8,201.2 203.0,203.2 202.4,207.9 200.9,214.9 199.1,220.7 196.0,225.1 194.4,229.2 193.5,230.0 191.2,231.2 190.0,232.0 189.0,233.2 187.3,235.7 185.5,237.3 184.3,237.8 181.3,238.1 178.5,238.9 M176.3,242.4 175.5,242.5 174.5,242.3 169.5,239.9 168.8,239.3 168.3,238.4 167.8,235.7 167.9,233.9 168.4,232.4 169.0,231.4 170.8,230.3 171.4,229.7 172.4,225.9 174.3,222.4 176.2,218.2 179.0,214.5 180.7,211.7 181.6,210.4 183.0,209.4 186.5,207.9 188.2,206.7 190.0,204.9 192.1,201.9 193.0,201.0 194.3,200.3 197.5,199.2 200.5,197.5 202.0,197.2 203.4,197.7 204.6,198.9 205.0,199.9 205.2,201.2 205.1,202.4 204.2,205.9 204.0,212.2 202.0,217.3 201.1,221.2 200.4,222.4 198.5,224.4 197.9,225.4 196.1,230.7 195.0,231.6 192.2,232.4 191.1,233.2 190.4,234.2 189.8,236.4 189.3,237.3 187.8,239.0 186.3,240.3 184.5,240.8 182.0,240.5 180.8,240.6 176.3,242.4 M173.7,247.2 172.6,246.2 171.3,244.3 170.5,243.7 169.0,243.3 166.8,243.8 165.3,243.7 161.9,242.2 161.4,241.7 161.3,241.2 161.8,240.2 163.8,239.3 164.4,238.4 165.5,234.1 165.7,230.4 166.1,229.2 166.8,228.3 171.3,224.1 172.5,222.7 173.3,221.2 174.9,217.2 179.1,210.9 180.5,209.2 181.8,208.2 185.5,206.6 187.0,205.7 188.8,203.7 190.2,200.9 191.0,199.9 196.3,196.6 199.8,195.6 202.5,195.4 204.5,196.0 208.6,198.2 209.3,198.9 209.7,199.9 209.6,201.2 208.7,204.4 209.8,208.2 209.7,210.4 209.3,211.9 208.6,213.2 205.9,215.9 205.3,216.8 204.0,220.9 202.3,224.1 200.4,226.9 200.3,227.7 200.4,228.4 202.3,230.0 202.4,230.7 202.0,231.4 201.0,232.2 199.0,232.8 196.8,233.8 193.3,234.7 192.8,235.3 191.3,238.2 188.0,241.9 186.0,242.9 182.0,243.6 180.8,244.0 179.8,244.8 178.2,246.4 177.1,247.2" fill="none" stroke="#000" stroke-width="0.7" stroke-linejoin="round"/></g>
<clipPath id="c22"><rect x="260.0" y="152.2" width="96.80000000000001" height="93.0"/></clipPath><g clip-path="url(#c22)"><path d="M285.5,225.3 284.3,225.3 283.4,224.5 283.0,223.2 283.2,221.5 284.0,219.8 285.3,218.3 286.8,217.3 288.0,217.0 288.6,217.5 288.8,218.5 288.8,220.0 288.5,221.5 287.3,223.9 286.5,224.7 285.5,225.3 M285.5,226.5 284.0,226.6 283.3,226.3 282.8,225.7 282.3,224.7 282.1,223.7 282.4,221.5 283.3,219.5 285.0,217.5 287.3,215.9 288.3,215.4 289.0,215.4 289.6,216.0 289.8,217.2 289.7,219.5 289.2,221.7 288.5,223.4 287.7,224.7 286.5,225.9 285.5,226.5 M285.0,228.0 284.0,228.1 283.3,227.9 282.4,227.2 281.8,226.3 281.4,225.0 281.2,223.7 281.7,221.0 283.0,218.6 285.0,216.5 288.3,214.1 289.5,213.6 290.3,213.6 290.8,214.2 290.9,216.0 290.4,220.0 289.6,222.7 288.8,224.6 287.6,226.2 286.3,227.4 285.0,228.0 M284.0,229.7 283.0,229.6 282.1,229.0 281.3,228.0 280.8,226.7 280.4,225.2 280.4,223.7 280.6,222.0 281.1,220.5 282.8,217.7 285.3,215.2 289.5,212.2 290.8,211.7 291.5,211.7 292.1,212.5 292.1,214.5 291.1,220.5 290.1,223.7 288.8,226.1 287.3,228.0 285.5,229.3 284.0,229.7 M283.5,231.8 282.5,231.6 281.5,230.9 280.5,229.3 279.8,227.5 279.5,225.6 279.5,223.7 279.8,222.0 280.4,220.2 282.2,217.2 285.0,214.5 290.0,210.7 291.5,210.1 292.5,210.1 293.0,210.4 293.3,211.0 293.3,212.7 291.7,221.0 290.7,224.2 289.3,227.0 287.3,229.5 285.3,231.1 283.5,231.8 M282.5,234.5 281.4,234.2 280.5,233.3 279.8,231.6 278.9,228.2 278.6,226.0 278.6,224.0 279.0,222.0 279.6,220.0 280.5,218.2 281.6,216.7 284.8,213.7 290.8,209.3 292.3,208.7 293.5,208.7 294.0,209.1 294.3,209.7 294.4,211.7 292.4,221.5 291.3,225.0 289.5,228.3 287.0,231.5 284.5,233.7 283.5,234.3 282.5,234.5 M281.5,237.3 280.3,237.2 279.5,236.7 278.8,235.8 278.4,234.5 277.7,227.7 277.7,225.2 278.0,222.5 278.9,219.7 279.8,218.0 281.0,216.2 282.5,214.6 284.5,212.9 291.0,208.2 292.8,207.4 294.3,207.5 294.9,208.0 295.3,208.7 295.3,211.0 293.2,221.7 291.9,225.7 289.5,230.1 286.5,234.2 284.0,236.3 282.8,237.0 281.5,237.3 M281.3,239.3 279.5,239.3 278.3,239.0 277.3,238.2 276.6,236.7 276.8,225.0 277.2,222.2 278.0,219.7 279.0,217.7 280.4,215.7 282.0,214.0 284.0,212.3 291.3,207.1 293.5,206.2 295.0,206.4 295.7,207.0 296.1,207.7 296.3,208.7 296.2,210.2 293.9,222.0 292.6,226.2 289.8,231.7 287.0,235.7 285.7,237.0 284.3,238.1 282.8,238.8 281.3,239.3 M279.8,241.0 277.8,240.8 276.3,240.2 275.2,239.0 274.7,237.5 274.8,235.7 275.5,231.0 276.0,224.2 276.5,221.7 277.4,219.2 278.6,217.0 280.0,215.0 281.7,213.2 283.8,211.6 289.5,207.4 291.8,206.0 294.0,205.2 295.0,205.2 295.8,205.4 296.5,206.0 297.0,207.0 297.2,208.2 297.1,210.0 295.8,216.0 294.7,222.5 293.9,225.2 292.7,228.2 289.7,234.0 288.4,236.0 287.1,237.5 285.3,239.0 283.5,240.0 281.5,240.7 279.8,241.0 M280.3,242.3 277.5,242.4 275.3,241.7 273.8,240.5 273.0,238.7 273.0,236.7 274.3,231.0 275.1,224.0 275.6,221.7 276.4,219.5 277.6,217.0 279.0,215.0 280.8,213.1 282.9,211.2 289.8,206.4 292.0,205.0 294.3,204.2 295.3,204.1 296.3,204.3 297.1,205.0 297.7,206.0 298.0,207.5 297.9,209.2 296.6,215.5 295.5,222.5 294.6,225.7 293.1,229.5 290.6,234.7 289.3,236.7 287.9,238.2 286.3,239.7 284.3,240.9 282.3,241.8 280.3,242.3 M280.3,243.5 276.8,243.6 273.8,242.9 272.8,242.3 272.2,241.7 271.6,240.7 271.3,239.5 271.2,238.2 271.4,236.7 272.6,231.5 273.7,228.0 274.5,223.0 276.2,218.2 277.0,216.2 277.9,215.0 281.0,211.9 283.3,210.0 292.5,203.3 294.5,202.7 295.8,202.7 296.7,203.0 297.5,203.5 298.2,204.5 298.6,205.5 298.8,207.0 298.5,210.0 297.3,216.2 297.4,222.5 297.0,224.7 294.5,228.6 291.7,235.0 289.9,237.7 287.6,239.7 284.0,242.1 282.0,243.1 280.3,243.5 M281.0,244.5 277.3,244.7 271.5,244.4 270.3,244.0 269.8,243.0 269.9,238.0 270.9,234.0 271.2,231.2 273.0,227.5 273.8,222.2 276.0,216.2 277.0,214.6 282.0,210.1 287.0,206.5 291.8,202.8 293.0,202.1 294.3,201.7 295.8,201.6 297.0,201.8 298.0,202.4 298.8,203.3 299.3,204.5 299.5,206.0 299.2,209.7 298.1,216.2 298.4,223.0 298.0,225.5 297.5,226.5 295.5,228.9 294.5,230.4 292.0,237.1 291.0,238.7 283.5,243.8 282.5,244.3 281.0,244.5 M272.5,245.8 270.5,245.9 269.0,245.3 267.8,244.2 267.4,243.5 267.3,242.7 268.2,240.0 268.7,236.7 269.7,233.7 270.0,230.7 272.3,227.1 273.0,222.0 275.5,215.2 276.5,213.9 278.9,212.0 282.3,208.8 286.6,206.0 292.0,201.8 293.5,201.0 295.0,200.6 296.5,200.5 297.8,200.9 298.8,201.7 299.5,202.7 300.1,204.2 300.3,205.5 299.2,216.2 299.1,225.0 298.4,227.0 295.8,230.0 294.8,231.7 294.2,233.2 293.4,237.0 292.9,238.5 291.6,240.0 287.2,242.5 284.5,245.0 283.8,245.4 282.8,245.6 274.5,245.6 272.5,245.8 M258.0,238.9 260.1,236.7 261.4,233.5 262.5,231.9 265.8,228.4 268.5,227.2 269.8,226.1 270.3,224.9 271.0,221.5 273.3,215.7 274.4,213.7 275.5,212.3 281.2,207.0 285.5,204.6 288.0,202.5 293.8,198.1 295.3,197.5 297.3,197.8 299.0,198.7 300.1,200.0 301.9,204.0 302.5,206.2 302.7,212.2 302.2,215.5 302.2,218.7 301.1,222.2 301.0,226.5 300.0,228.7 297.0,232.5 296.5,233.7 296.0,237.0 294.6,239.7 292.8,241.6 288.0,244.9 286.0,247.2 M266.2,247.2 264.5,246.9 262.9,247.2 M258.0,233.2 258.8,231.0 260.8,228.6 262.0,226.0 262.7,225.0 264.3,223.8 267.3,223.0 268.3,222.2 270.5,218.7 272.2,215.0 273.4,212.7 275.5,209.6 276.5,208.4 281.0,205.4 283.9,203.7 286.3,201.4 289.5,199.5 290.5,198.5 292.5,196.0 293.8,195.0 294.8,194.8 295.8,194.8 299.8,196.4 300.7,197.0 301.3,197.7 303.0,202.9 304.3,205.1 306.1,207.5 306.4,208.2 306.4,209.2 305.1,215.7 305.7,219.0 305.4,219.7 303.7,221.2 303.0,222.2 302.8,223.5 302.9,226.5 302.5,228.2 301.7,229.7 298.8,233.7 297.4,238.0 296.4,240.0 294.5,242.0 289.0,246.0 287.7,247.2 M258.0,227.1 259.3,224.7 259.9,224.0 263.8,221.8 266.5,220.5 268.5,218.7 269.5,217.2 272.0,212.2 273.5,208.2 274.3,207.0 276.0,205.7 279.2,204.5 280.6,203.7 282.0,202.6 284.0,200.1 288.0,198.2 288.9,197.2 290.7,194.5 292.3,193.1 294.5,192.4 297.5,192.4 300.0,192.1 302.4,194.0 305.8,196.2 308.8,197.1 309.3,197.6 309.4,198.2 309.3,199.0 308.8,199.7 308.3,200.1 307.5,200.4 305.8,199.9 305.3,200.2 305.2,200.7 305.4,201.5 306.0,201.9 308.5,202.3 310.8,203.3 312.3,204.5 312.9,205.7 312.9,207.2 311.6,210.2 311.3,213.5 310.0,218.5 309.9,220.0 310.3,222.2 310.2,223.2 309.3,224.4 307.0,225.4 306.3,226.3 304.1,231.2 303.9,232.5 304.0,234.5 303.7,235.2 303.0,235.7 301.3,235.9 300.5,236.4 299.8,237.6 298.7,240.0 297.8,241.2 291.8,246.3 290.2,247.2" fill="none" stroke="#000" stroke-width="0.65" stroke-linejoin="round"/></g>
<clipPath id="c31"><rect x="162.8" y="251.0" width="97.19999999999999" height="93.69999999999999"/></clipPath><g clip-path="url(#c31)"><path d="M190.0,316.7 189.0,316.8 188.6,316.5 188.4,316.0 188.5,314.7 189.3,313.0 191.0,310.4 194.5,306.2 196.3,304.6 197.3,304.3 197.6,304.7 197.4,306.0 195.3,310.2 192.3,314.8 191.0,316.1 190.0,316.7 M189.0,317.7 188.5,317.7 188.0,317.3 187.7,316.2 188.1,314.5 189.1,312.5 191.3,309.5 195.0,305.1 196.8,303.6 197.5,303.3 198.0,303.4 198.3,303.7 198.3,304.5 197.8,306.2 194.0,313.0 191.5,316.3 190.3,317.3 189.0,317.7 M189.0,318.5 187.8,318.4 187.3,317.8 187.1,317.2 187.3,315.2 188.3,313.0 190.5,309.8 195.0,304.6 197.0,302.9 197.8,302.5 198.5,302.5 198.9,303.0 199.0,303.5 198.6,305.5 197.5,307.7 194.8,312.6 193.3,314.9 191.8,316.7 190.3,318.0 189.0,318.5 M188.8,319.3 188.0,319.3 187.3,319.1 186.8,318.7 186.4,317.7 186.7,315.5 187.8,313.0 190.3,309.5 195.3,303.8 197.5,302.0 198.3,301.7 199.0,301.7 199.5,302.2 199.6,302.7 199.3,304.8 198.1,307.5 195.3,312.5 193.5,315.3 192.0,317.1 190.3,318.6 188.8,319.3 M188.8,320.0 187.8,320.1 186.8,319.9 186.1,319.2 185.8,318.5 185.8,317.2 186.0,316.0 187.2,313.2 189.6,309.7 195.3,303.2 197.8,301.3 198.8,300.9 199.5,301.0 200.0,301.5 200.2,302.2 199.8,304.5 198.6,307.2 195.8,312.4 194.0,315.3 192.3,317.5 190.5,319.1 188.8,320.0 M188.5,320.7 187.5,320.9 186.5,320.7 185.8,320.2 185.3,319.2 185.1,318.0 185.3,316.5 186.6,313.2 189.3,309.5 195.3,302.7 196.8,301.4 198.0,300.6 199.0,300.2 200.0,300.3 200.5,300.7 200.7,301.5 200.7,302.5 200.4,304.0 199.1,307.0 196.0,312.7 194.1,316.0 192.3,318.2 190.3,319.9 188.5,320.7 M188.3,321.5 187.0,321.7 186.0,321.5 185.1,320.7 184.6,319.7 184.5,318.2 184.7,316.7 185.3,315.0 186.1,313.2 189.0,309.2 195.5,302.0 197.0,300.7 198.5,299.8 199.8,299.5 200.5,299.7 201.0,300.1 201.3,301.0 201.3,302.2 200.9,303.7 199.5,307.0 196.1,313.5 194.2,316.5 192.3,318.8 190.3,320.5 188.3,321.5 M188.0,322.2 186.8,322.4 185.5,322.2 184.6,321.5 184.0,320.2 183.9,318.7 184.1,317.0 184.7,315.2 185.6,313.2 186.9,311.2 188.7,309.0 195.8,301.2 197.3,300.0 198.8,299.1 200.0,298.8 201.0,299.0 201.6,299.7 201.8,300.7 201.4,303.5 199.9,307.0 196.3,314.0 194.3,317.1 192.3,319.5 190.0,321.3 188.0,322.2 M187.8,323.0 186.3,323.2 185.0,322.9 184.0,322.1 183.4,320.7 183.3,319.2 183.5,317.2 184.2,315.2 185.1,313.2 186.6,311.0 188.3,308.7 195.8,300.7 197.5,299.3 199.0,298.5 200.5,298.1 201.5,298.4 202.2,299.2 202.4,300.2 202.3,301.5 201.9,303.2 200.3,307.0 196.5,314.5 194.4,317.7 192.3,320.1 190.0,321.9 187.8,323.0 M187.5,323.7 185.8,323.9 184.5,323.6 183.5,322.8 182.9,321.5 182.6,319.7 182.9,317.7 183.6,315.5 184.6,313.2 186.0,311.0 188.0,308.5 195.8,300.3 197.5,298.9 199.3,297.9 200.8,297.5 201.8,297.7 202.5,298.4 202.9,299.5 202.8,301.0 202.5,302.7 201.0,306.5 196.9,314.5 194.8,317.9 192.5,320.6 190.0,322.6 187.5,323.7 M187.3,324.5 185.5,324.7 184.0,324.3 183.0,323.5 182.3,322.0 182.0,320.2 182.3,318.0 182.9,315.7 184.1,313.2 185.7,310.7 187.7,308.2 195.8,299.8 197.8,298.2 199.5,297.2 201.0,296.9 202.3,297.1 203.0,297.9 203.4,299.0 203.4,300.5 202.9,302.5 201.4,306.5 197.1,315.0 194.9,318.5 192.5,321.2 189.8,323.4 187.3,324.5 M186.8,325.3 185.0,325.4 183.5,325.0 182.4,324.0 181.7,322.5 181.4,320.5 181.7,318.2 182.4,315.7 183.6,313.2 185.2,310.7 187.3,308.0 195.8,299.3 198.0,297.5 199.8,296.6 201.3,296.2 202.7,296.5 203.4,297.2 203.9,298.5 203.9,300.2 203.4,302.2 201.7,306.7 197.4,315.5 195.0,319.1 192.4,322.0 189.5,324.1 186.8,325.3 M186.5,326.0 184.5,326.2 183.0,325.7 181.8,324.6 181.0,323.0 180.8,321.0 181.1,318.5 181.9,315.7 183.1,313.2 184.8,310.5 187.0,307.7 195.8,298.8 198.0,297.0 200.0,296.0 201.8,295.6 203.0,295.8 203.9,296.7 204.4,298.0 204.4,299.7 204.0,301.7 202.4,306.0 197.9,315.5 195.5,319.2 192.5,322.5 189.5,324.8 186.5,326.0 M186.3,326.8 184.3,326.9 182.5,326.4 181.2,325.2 180.4,323.5 180.2,321.2 180.5,318.7 181.4,315.7 182.7,313.0 184.6,310.0 186.9,307.2 196.0,298.1 198.3,296.4 200.3,295.4 202.0,295.0 203.5,295.3 204.4,296.2 204.8,297.5 204.9,299.2 204.5,301.5 202.8,306.0 198.2,315.7 195.7,319.7 192.8,322.9 189.5,325.4 187.8,326.3 186.3,326.8 M186.0,327.5 183.8,327.7 181.8,327.1 180.4,326.0 179.5,324.2 179.3,322.2 179.9,319.0 180.9,315.7 182.3,312.7 183.9,310.2 186.6,306.7 196.3,297.4 198.5,295.8 200.8,294.7 202.5,294.3 203.8,294.6 204.7,295.5 205.2,296.7 205.3,298.2 205.2,300.0 204.1,304.0 201.8,310.3 200.8,312.5 197.1,318.7 193.5,322.9 190.0,326.0 188.3,326.8 186.0,327.5 M185.3,328.2 182.8,328.4 180.8,327.8 179.4,326.5 178.6,324.5 178.5,322.7 179.0,320.2 180.6,315.5 182.1,312.2 186.4,306.2 196.0,297.0 198.0,295.6 201.0,294.1 202.8,293.7 204.0,294.0 204.9,294.7 205.5,296.0 205.7,297.5 205.6,299.5 204.7,303.2 203.1,308.5 201.0,313.5 197.6,319.0 191.5,325.8 189.8,327.0 185.3,328.2 M184.5,329.0 182.0,329.2 180.3,328.6 179.5,328.0 178.8,327.0 178.0,324.7 177.9,322.7 178.4,320.5 181.7,312.0 184.8,307.5 186.2,305.7 196.0,296.5 198.3,295.1 201.8,293.2 203.0,293.0 204.3,293.2 205.3,294.1 205.9,295.5 206.1,297.2 206.0,299.2 205.1,303.5 203.7,308.2 201.1,314.5 198.5,318.7 191.7,326.5 189.8,327.6 184.5,329.0 M182.8,330.0 180.8,329.8 179.3,328.9 178.0,327.0 177.3,324.5 177.4,322.5 178.0,320.0 180.7,313.0 181.6,311.2 184.4,307.2 186.3,305.0 189.3,301.9 192.8,299.1 196.0,296.1 202.0,292.5 203.5,292.3 204.8,292.7 205.8,293.7 206.4,295.2 206.6,297.5 206.4,299.5 205.4,304.0 204.1,308.5 201.9,314.0 200.2,317.2 199.0,319.0 193.0,326.0 191.6,327.2 190.0,328.0 184.3,329.7 182.8,330.0 M181.8,332.7 179.8,332.5 178.3,331.6 175.5,328.5 175.1,327.7 175.0,327.0 176.4,318.7 178.0,315.5 179.2,312.0 181.1,308.5 182.0,307.2 185.2,304.0 187.6,300.5 192.0,297.7 195.5,294.7 201.0,291.1 202.5,290.4 204.5,290.3 206.7,291.0 207.7,292.0 208.3,293.7 208.5,296.0 208.3,298.7 207.1,305.0 204.3,312.2 203.2,315.7 202.2,317.7 200.9,319.5 198.2,322.2 195.7,325.5 192.3,328.8 191.0,329.4 187.3,330.5 183.5,332.3 181.8,332.7 M171.8,340.0 171.0,340.0 170.0,339.4 169.3,338.5 169.0,337.7 169.0,336.0 169.8,331.0 169.6,329.7 168.7,327.7 168.7,326.7 169.0,326.0 169.5,325.4 172.3,324.2 173.2,323.2 173.5,322.2 173.6,319.7 174.0,318.2 175.4,315.2 176.2,312.5 178.1,309.5 179.2,306.2 179.8,305.2 180.5,304.6 182.3,303.7 183.3,303.0 185.2,300.0 186.8,298.4 190.7,296.0 193.5,293.7 197.3,291.7 202.0,288.5 203.3,288.0 204.5,288.0 207.8,288.4 209.2,289.0 209.8,289.6 210.1,290.5 210.5,295.0 210.3,298.2 209.5,302.0 209.3,304.7 208.9,306.0 207.5,308.8 206.0,312.5 205.0,317.2 204.3,318.7 200.3,322.7 197.4,326.5 192.5,330.6 191.0,331.3 188.0,332.2 186.5,333.0 185.2,334.0 183.0,336.1 182.3,336.6 181.3,336.9 178.3,337.3 171.8,340.0 M188.5,282.7 187.5,282.7 186.8,282.3 186.4,281.7 186.6,281.2 187.2,280.7 188.0,280.6 188.8,280.6 189.5,281.0 189.8,281.5 189.7,282.0 189.3,282.5 188.5,282.7 M160.8,337.9 161.8,336.6 164.6,335.7 165.3,335.2 166.0,334.2 166.5,332.2 165.9,328.2 166.4,326.0 168.7,320.7 170.8,318.4 171.5,317.3 172.5,315.3 173.9,311.7 176.3,308.3 178.3,304.2 179.3,302.9 181.4,301.2 185.4,297.2 188.5,293.5 190.8,291.7 194.3,290.7 195.8,290.0 199.3,287.5 201.3,285.7 202.5,285.2 204.3,285.2 207.0,286.0 210.3,286.5 211.5,287.1 212.2,287.7 212.7,288.7 213.3,291.5 213.3,293.5 212.8,297.5 212.7,300.7 213.0,301.5 214.2,302.7 214.4,303.7 213.6,305.2 210.3,308.4 209.2,310.0 207.5,314.7 207.0,318.7 206.3,320.4 205.3,321.7 201.8,324.9 199.0,328.8 195.9,330.2 192.0,332.9 188.3,335.0 187.5,335.7 186.0,338.0 184.8,339.1 183.0,339.8 179.3,340.7 178.3,341.2 177.1,342.5 176.0,345.2 173.1,346.7 M172.0,296.5 171.0,296.6 170.3,296.4 169.8,296.0 169.8,295.2 170.8,294.6 171.5,294.6 172.3,294.9 172.6,295.2 172.8,295.7 172.5,296.2 172.0,296.5 M224.0,302.3 223.0,302.4 222.0,302.2 221.5,301.7 221.4,301.0 221.8,300.5 222.5,300.1 223.5,300.1 224.3,300.3 224.8,300.7 225.0,301.2 224.8,301.8 224.0,302.3 M162.4,346.7 161.8,345.8 160.8,343.3" fill="none" stroke="#000" stroke-width="0.7" stroke-linejoin="round"/></g>
<clipPath id="c32"><rect x="260.0" y="251.0" width="96.80000000000001" height="93.69999999999999"/></clipPath><g clip-path="url(#c32)"><path d="M283.5,320.3 282.8,320.4 282.0,320.1 281.5,319.5 281.4,319.0 281.7,317.0 282.8,314.7 284.8,312.1 287.0,310.0 289.0,308.9 289.8,308.8 290.5,309.0 291.1,309.8 291.2,311.3 290.7,313.0 289.7,315.0 288.3,316.9 286.8,318.4 285.0,319.7 283.5,320.3 M283.0,321.3 282.0,321.4 281.3,321.2 280.8,320.7 280.5,319.8 280.8,317.5 282.2,314.5 284.5,311.5 287.3,308.9 289.5,307.7 290.5,307.5 291.4,307.8 292.1,308.8 292.1,310.5 291.5,312.8 290.3,315.0 288.7,317.3 286.8,319.2 284.8,320.6 283.0,321.3 M282.8,322.3 281.5,322.5 280.6,322.3 280.0,321.8 279.6,320.8 279.5,319.5 279.8,318.3 281.2,315.0 284.0,311.2 287.5,307.8 289.0,306.8 290.3,306.3 291.5,306.1 292.3,306.4 293.0,307.5 293.1,309.5 292.5,312.0 291.1,314.8 289.4,317.3 287.2,319.5 285.0,321.2 282.8,322.3 M297.8,301.3 296.8,301.5 296.4,301.3 296.3,300.8 296.5,300.3 297.1,299.8 298.3,299.6 298.7,299.8 298.9,300.3 298.5,300.8 297.8,301.3 M281.3,323.6 280.0,323.4 279.3,323.0 278.8,322.3 278.5,321.0 278.7,319.5 279.1,318.0 281.0,314.3 284.5,309.7 288.0,306.4 289.8,305.2 291.3,304.6 292.5,304.4 293.5,304.6 294.0,305.3 294.2,306.3 294.0,309.3 293.0,312.3 291.3,315.5 289.0,318.5 286.3,321.1 283.5,322.9 281.3,323.6 M281.3,324.6 279.8,324.7 278.5,324.2 277.7,323.0 277.5,321.5 277.8,319.8 278.6,317.5 279.9,315.0 281.5,312.5 284.5,308.7 287.0,306.0 289.0,304.3 292.6,302.0 295.5,299.1 296.5,298.5 297.8,298.2 299.0,298.2 300.0,298.7 300.6,299.5 300.5,300.8 299.7,301.8 297.1,303.5 296.1,304.5 295.7,305.5 294.9,309.0 294.0,311.5 292.7,314.3 291.1,316.8 288.8,319.6 286.3,321.9 283.8,323.6 281.3,324.6 M280.3,325.8 278.5,325.8 277.3,325.0 276.6,323.8 276.5,321.8 277.0,319.5 278.1,317.0 279.6,314.3 282.0,310.9 285.5,306.2 287.5,304.0 294.6,298.5 296.0,297.7 297.8,297.3 299.5,297.4 300.8,298.0 301.4,298.5 301.8,299.3 301.9,300.0 301.6,301.0 300.8,302.1 298.0,304.2 297.1,305.3 294.3,312.5 292.9,315.0 291.4,317.3 288.8,320.4 285.8,323.1 282.8,325.0 280.3,325.8 M279.3,327.1 277.3,326.9 276.5,326.4 275.9,325.8 275.5,324.9 275.3,323.8 275.7,321.0 276.6,318.5 278.1,315.5 285.0,305.0 287.0,302.5 287.8,301.7 295.0,297.3 296.8,296.7 298.5,296.6 300.3,296.9 301.5,297.5 302.3,298.3 302.8,299.3 302.8,300.3 302.5,301.2 301.5,302.5 298.8,304.8 297.8,306.0 294.7,313.0 291.7,317.8 288.8,321.2 285.5,324.1 282.3,326.1 280.8,326.7 279.3,327.1 M279.0,328.3 276.8,328.3 275.8,327.9 275.0,327.3 274.4,326.3 274.2,325.3 274.1,323.8 274.4,322.3 275.1,320.0 276.2,317.5 281.6,309.0 283.1,305.5 284.9,303.3 285.6,300.8 286.3,300.3 289.8,299.1 294.0,297.0 296.3,296.2 298.0,295.9 299.5,296.0 301.0,296.4 302.1,297.0 303.1,298.0 303.6,299.0 303.7,300.0 303.4,301.3 302.3,302.8 299.5,305.3 298.5,306.5 295.1,313.5 292.4,317.8 289.1,321.8 285.5,325.0 282.0,327.2 279.0,328.3 M277.8,329.8 276.5,329.9 275.3,329.6 274.3,329.1 273.5,328.3 273.0,327.3 272.8,326.0 273.0,322.7 273.6,321.0 275.1,318.0 280.5,309.0 281.0,307.3 280.8,305.3 283.3,303.6 283.7,303.0 283.9,302.3 283.7,301.8 283.0,301.2 282.0,300.9 281.0,301.0 280.0,301.5 279.4,302.0 278.6,304.3 277.8,304.5 276.3,304.3 275.5,304.0 274.9,303.5 272.9,300.3 272.8,299.8 273.0,299.5 274.5,298.8 277.3,298.4 286.0,298.3 288.3,298.1 290.5,297.5 294.8,295.8 297.3,295.3 300.0,295.4 301.5,295.9 302.8,296.6 303.8,297.5 304.4,298.8 304.6,300.0 304.3,301.3 303.3,302.9 300.4,305.5 299.3,306.9 295.6,314.0 292.8,318.3 289.3,322.4 285.3,326.0 281.3,328.6 279.3,329.5 277.8,329.8 M277.5,331.3 276.0,331.4 274.5,331.2 273.3,330.7 272.5,330.0 272.0,329.0 271.6,327.5 271.4,322.5 271.6,321.3 272.1,320.0 274.8,316.8 278.3,311.5 279.1,309.5 279.1,308.0 278.8,307.5 278.2,307.0 275.0,306.0 273.7,305.3 273.3,304.6 272.9,302.5 272.0,301.6 270.8,301.1 267.5,300.8 267.5,300.0 268.0,299.0 269.8,297.0 270.5,296.6 271.3,296.4 274.0,296.7 277.5,296.4 281.5,296.9 286.8,296.9 289.3,296.5 296.0,294.6 298.3,294.3 300.5,294.6 303.0,295.8 304.3,297.0 305.1,298.5 305.2,300.0 304.8,301.5 303.5,303.6 299.8,307.7 294.5,316.8 290.8,321.6 287.4,324.8 281.0,329.9 279.3,330.8 277.5,331.3 M263.5,302.4 262.5,302.3 261.3,301.3 260.8,300.0 261.1,299.3 262.0,299.1 263.0,299.8 263.9,301.5 263.9,302.0 263.5,302.4 M281.6,303.3 282.3,302.8 282.2,302.3 281.5,302.0 280.8,302.3 280.6,302.8 280.6,303.0 281.0,303.3 281.6,303.3 M270.3,333.3 269.3,333.1 269.0,332.5 269.9,330.0 270.2,328.5 270.3,322.3 270.6,320.8 271.6,318.8 274.8,315.2 276.7,312.5 277.5,310.8 277.5,309.3 277.0,308.5 276.4,308.0 272.8,306.3 271.8,305.5 271.7,305.0 272.2,303.8 272.2,303.0 271.8,302.3 271.0,301.9 269.8,301.9 268.8,302.3 268.3,302.8 267.7,304.3 266.5,305.0 264.3,305.4 262.5,304.8 260.4,303.0 258.6,300.8 258.2,299.5 258.9,298.3 260.0,297.5 261.5,297.2 262.8,297.3 265.0,298.0 266.0,298.0 267.3,297.4 269.5,295.4 270.8,294.9 274.5,295.4 278.3,295.0 282.3,295.7 286.3,295.8 298.3,293.1 299.3,293.2 300.5,293.6 302.8,294.8 304.3,296.0 305.4,297.3 305.9,298.8 305.8,300.5 305.2,302.3 304.2,303.8 301.5,307.0 298.3,311.7 295.3,316.5 290.8,322.4 285.2,327.3 282.3,330.1 280.3,331.5 278.5,332.2 276.8,332.7 272.3,333.0 270.3,333.3 M258.0,297.1 259.8,296.5 261.3,296.2 265.0,296.5 266.0,296.4 267.0,296.0 269.3,294.2 270.5,293.8 274.5,294.3 278.8,293.9 282.5,294.6 285.5,294.6 290.0,293.7 294.3,293.0 298.0,291.7 299.0,291.5 300.3,292.0 305.3,295.9 306.4,297.5 306.8,299.3 306.4,301.0 305.7,302.8 302.6,307.3 301.2,309.8 298.5,312.6 296.1,316.5 290.5,323.6 286.3,327.0 282.8,330.8 281.0,332.2 277.8,333.5 273.3,334.4 269.3,335.6 268.0,335.3 266.9,334.5 266.2,333.5 266.2,332.5 268.3,329.3 269.0,327.8 269.4,325.5 269.4,321.5 269.9,319.8 271.3,317.5 275.7,312.5 276.3,311.3 276.3,310.0 275.8,309.1 274.7,308.3 270.3,306.3 268.8,306.2 265.0,306.6 263.0,306.3 261.7,305.5 258.0,302.3 M270.9,303.8 271.3,303.3 271.0,302.7 270.3,302.6 269.7,303.0 269.7,303.5 270.0,303.9 270.9,303.8 M262.0,318.1 261.8,318.3 261.3,318.0 261.2,317.5 261.3,317.3 261.8,317.2 262.0,317.4 262.0,318.1 M260.3,326.6 259.8,326.6 259.3,326.0 259.2,325.3 259.8,324.7 260.3,324.8 260.6,325.3 260.6,326.0 260.3,326.6" fill="none" stroke="#000" stroke-width="0.7" stroke-linejoin="round"/><path d="M258.0,296.1 261.0,295.4 264.5,295.5 265.8,295.3 266.8,294.9 269.0,293.3 270.3,292.9 271.5,292.9 274.5,293.4 278.8,292.9 282.5,293.5 284.8,293.5 289.0,292.7 293.8,292.1 295.3,291.6 297.8,290.4 299.3,290.1 300.0,290.2 300.8,290.7 302.9,293.0 306.5,296.0 307.5,297.5 307.9,299.0 307.6,300.3 307.0,301.8 303.6,307.3 302.0,310.8 299.0,313.3 296.9,316.5 294.3,319.7 291.0,324.1 286.6,327.5 283.3,331.5 281.3,333.1 278.3,334.3 273.1,335.5 269.3,337.2 267.8,337.1 265.3,336.1 264.3,336.2 263.0,337.1 261.8,338.8 260.5,341.1 259.8,341.5 259.2,341.0 259.1,340.0 260.7,335.5 260.9,333.8 260.9,332.0 260.3,330.0 258.0,326.6 M258.0,324.6 260.2,321.3 260.1,320.3 259.4,317.8 259.6,316.3 260.0,315.7 260.8,315.3 261.5,315.2 262.3,315.3 263.5,316.4 264.0,317.8 263.7,319.0 262.3,321.0 261.9,321.8 262.5,328.8 263.1,330.0 264.0,330.7 265.0,330.7 266.0,330.1 267.3,328.7 268.2,326.8 268.5,325.0 268.5,321.3 269.1,319.3 271.3,315.9 274.5,312.5 275.1,311.5 275.2,310.8 275.0,310.0 274.3,309.2 272.8,308.3 271.3,307.7 269.3,307.3 265.0,307.6 262.8,307.1 261.5,306.3 259.3,304.3 258.0,303.4 M258.0,295.3 260.8,294.7 265.3,294.4 266.3,294.0 268.5,292.6 270.0,292.1 271.5,292.1 274.5,292.5 278.8,291.9 282.3,292.5 284.0,292.5 292.5,291.3 294.3,290.8 297.8,289.3 300.0,288.9 301.0,289.1 301.6,289.5 303.9,292.8 307.5,295.8 311.0,299.0 310.9,299.3 309.3,300.5 308.3,301.5 305.3,305.9 304.2,307.8 303.4,310.5 302.9,311.5 302.0,312.3 300.2,313.3 299.3,314.2 297.4,317.0 294.3,320.7 291.5,325.4 290.5,326.3 288.3,327.4 287.0,328.3 282.8,333.4 281.5,334.2 280.3,334.7 273.3,336.5 269.0,339.1 268.0,339.2 265.8,339.0 264.8,339.3 264.0,339.8 263.3,340.8 262.3,343.5 261.8,344.0 260.8,344.0 259.5,343.6 258.5,342.8 258.0,342.0 M258.0,323.0 258.6,321.8 258.9,320.8 258.4,317.3 258.8,315.7 259.7,314.5 260.8,314.0 261.8,313.9 262.8,314.2 263.8,315.0 264.6,316.0 265.1,317.0 265.3,318.0 265.0,319.3 263.8,321.3 263.4,322.3 263.3,324.0 263.6,327.0 263.9,328.0 264.4,328.5 265.0,328.7 265.8,328.5 266.6,327.5 267.3,326.0 267.5,324.5 267.5,320.8 268.0,319.0 270.5,314.5 273.1,312.3 273.8,311.0 273.6,310.3 273.2,309.8 271.3,308.8 269.8,308.5 266.3,308.7 262.8,308.1 261.5,307.3 259.3,305.1 258.0,304.2 M258.0,338.7 259.5,334.8 259.8,332.8 259.3,330.5 258.0,328.3 M258.0,294.6 260.5,294.0 264.8,293.6 267.8,292.0 269.8,291.5 271.5,291.4 274.5,291.6 278.3,291.0 283.0,291.5 286.8,291.0 290.3,290.8 292.7,290.3 298.0,288.3 301.3,287.9 302.0,288.0 302.7,288.5 304.3,291.8 306.0,293.5 310.0,296.0 314.3,297.2 315.1,297.8 315.5,298.8 315.3,299.8 314.3,300.8 313.0,301.3 310.5,301.7 309.5,302.0 308.5,302.7 307.3,304.2 305.8,306.3 305.0,307.7 304.2,311.3 303.8,312.3 303.0,312.9 301.0,313.8 300.0,314.6 298.0,317.5 295.8,319.8 294.8,321.2 293.8,323.5 293.6,326.8 292.3,328.8 291.0,329.4 288.8,329.0 288.0,329.2 287.3,329.6 285.8,331.2 283.3,335.0 282.3,335.8 277.0,336.4 274.3,337.0 272.5,338.0 269.5,340.9 268.5,341.3 265.8,341.8 265.0,342.8 264.5,345.5 263.7,346.8 M258.0,315.5 258.8,314.3 259.8,313.4 260.8,312.8 261.8,312.6 263.3,313.1 264.7,314.3 266.5,316.1 267.3,316.2 267.8,315.7 268.0,315.0 268.4,312.0 268.0,311.0 266.9,310.3 265.5,309.8 263.0,309.2 262.0,308.8 259.3,305.9 258.0,305.0 M258.0,321.3 258.1,320.3 258.0,319.3 M265.6,325.8 266.0,325.0 266.1,324.0 265.9,323.0 265.5,322.6 265.0,323.0 264.7,324.5 265.0,325.7 265.3,325.9 265.6,325.8 M258.0,336.3 258.7,334.3 259.0,332.8 258.8,331.2 258.0,329.5 M261.8,346.8 258.0,343.5 M258.0,293.8 260.5,293.1 264.0,292.6 267.0,291.4 269.8,290.8 274.1,290.5 277.5,290.0 282.5,290.6 286.3,290.1 290.3,290.0 291.8,289.7 296.8,287.9 300.8,286.9 302.3,286.7 303.3,287.0 303.8,287.5 304.3,288.3 305.3,291.1 306.8,292.8 308.3,293.8 310.0,294.6 314.0,295.4 315.3,295.9 316.7,297.0 317.2,298.3 317.2,299.3 316.9,300.5 316.3,301.6 315.5,302.4 314.3,302.9 311.0,303.0 309.8,303.3 308.5,304.1 307.3,305.4 306.3,306.8 305.6,308.3 305.4,309.5 305.4,312.0 304.9,313.3 304.0,314.0 301.6,314.8 300.8,315.3 298.7,318.3 296.6,320.3 295.8,321.4 295.3,323.0 296.1,325.8 295.6,327.0 293.4,329.5 292.0,330.6 290.5,331.1 288.0,331.0 286.8,331.8 286.0,332.8 285.4,334.0 285.0,335.3 284.7,338.0 284.2,339.0 283.3,339.5 282.0,339.4 281.0,339.0 279.3,337.9 278.0,337.5 276.3,337.6 274.5,338.0 273.0,339.1 270.3,342.4 267.0,344.1 265.4,346.8 M258.0,314.2 260.7,311.3 261.2,310.3 260.9,309.3 260.1,307.8 259.1,306.5 258.0,305.6 M258.0,334.2 258.2,332.5 258.0,331.1 M259.9,346.8 258.0,344.5 M258.0,292.9 264.5,290.6 271.3,290.0 276.3,288.8 277.8,288.9 282.3,289.6 286.0,289.2 290.3,289.2 295.5,287.3 301.3,285.8 302.8,285.7 304.0,286.1 305.0,287.0 305.6,288.0 306.6,290.8 307.9,292.3 310.3,293.5 314.0,294.0 315.8,294.7 317.5,296.1 318.1,297.0 318.4,298.0 318.3,299.8 317.7,302.5 317.5,304.8 317.2,305.5 316.5,305.9 315.5,305.9 311.7,304.8 310.5,304.6 309.0,305.0 307.8,306.1 306.9,307.3 306.5,308.5 306.4,309.8 306.9,312.3 306.5,313.8 305.0,315.2 301.7,316.5 299.8,319.4 297.5,321.4 297.2,322.5 298.0,324.5 298.1,325.5 297.9,326.5 297.3,327.3 292.3,331.5 290.8,332.1 288.3,332.6 287.2,333.3 286.8,334.0 286.4,335.3 286.0,339.8 285.3,341.0 284.5,341.5 283.8,341.6 281.5,341.4 279.7,340.8 277.3,339.1 276.5,339.0 275.5,339.1 274.5,339.5 273.9,340.0 271.5,343.3 268.1,345.3 266.7,346.8 M258.0,313.1 259.6,311.0 260.0,309.8 259.5,308.0 258.8,307.0 258.0,306.3 M258.8,346.8 258.0,345.6 M258.0,291.7 260.1,290.3 262.3,287.8 263.3,287.4 264.3,287.7 266.3,289.1 268.3,289.6 271.5,289.2 275.3,287.8 276.3,287.6 277.5,287.7 281.8,288.6 286.0,288.3 289.5,288.5 291.0,288.2 295.0,286.6 298.8,285.8 301.5,284.9 303.0,284.8 304.4,285.3 305.6,286.3 306.8,287.8 308.2,290.5 309.1,291.5 310.8,292.3 314.5,292.8 316.5,293.6 317.5,294.3 318.4,295.3 319.0,296.3 319.3,297.5 319.4,298.8 319.1,302.5 320.4,305.8 319.8,307.0 317.8,309.1 317.0,309.7 316.3,309.9 312.5,309.5 311.8,309.0 310.8,307.3 309.8,306.7 308.8,307.0 308.0,307.9 307.8,308.8 308.0,309.5 309.4,311.0 309.6,311.8 308.8,313.5 306.1,317.3 306.3,318.0 307.8,319.4 308.2,320.5 307.9,322.5 307.0,324.0 306.3,324.4 305.5,324.3 302.5,322.9 301.8,322.9 301.3,323.1 300.5,324.0 299.6,327.3 299.0,328.2 296.0,329.6 292.0,332.6 289.0,334.0 288.3,334.5 287.8,335.3 287.5,336.3 287.5,339.8 287.2,341.0 286.7,342.0 285.2,344.0 284.3,345.8 283.8,346.4 283.0,346.6 282.2,346.3 280.7,344.3 280.0,343.8 275.8,342.9 275.3,343.1 274.0,344.0 269.8,345.8 268.2,346.8 M258.0,312.1 258.8,310.8 259.1,309.5 258.9,308.3 258.0,307.1 M258.0,289.2 261.8,286.3 263.3,285.8 264.8,286.1 266.7,288.0 267.5,288.5 269.5,288.8 271.8,288.3 274.8,286.6 276.3,286.2 277.5,286.2 280.0,287.1 281.5,287.3 286.0,287.0 289.8,287.4 291.0,287.1 294.8,285.5 298.5,284.9 301.5,283.9 303.0,283.8 304.3,284.2 305.8,285.1 310.5,290.4 312.0,291.0 315.3,291.3 316.8,291.7 318.3,292.8 319.5,294.6 320.4,297.5 320.7,301.8 321.3,302.7 322.8,303.6 323.3,304.2 323.5,305.3 323.1,306.3 320.1,309.0 318.3,312.5 317.3,313.6 315.8,314.2 313.5,314.0 312.5,314.2 311.3,314.9 310.4,315.8 309.8,317.0 309.7,320.8 308.8,325.0 308.4,326.0 307.8,326.4 307.0,326.5 303.3,325.9 302.8,326.1 302.3,326.5 302.1,327.3 302.2,328.0 303.3,330.5 303.5,331.8 303.3,333.0 302.8,333.8 302.0,334.1 301.0,333.8 300.3,333.2 298.5,330.9 297.8,330.6 297.0,330.5 295.8,331.0 294.5,331.8 290.0,335.8 289.1,337.3 288.8,340.0 288.4,341.5 285.3,346.8 M258.0,310.5 258.2,309.5 258.0,308.4 M314.3,334.0 313.5,334.2 312.8,333.8 312.1,333.0 311.6,331.8 310.8,328.5 311.1,327.8 311.9,327.3 312.8,327.1 313.8,327.3 314.4,327.8 314.8,328.5 315.1,330.0 315.1,332.3 314.8,333.5 314.3,334.0 M273.2,346.8 271.4,346.8 M279.8,346.8 279.0,346.7 278.1,346.8 M258.0,287.6 259.3,287.0 261.8,285.3 263.3,284.9 264.3,284.9 265.3,285.3 267.8,287.6 268.5,287.9 269.5,288.0 271.5,287.5 274.8,285.4 276.5,284.8 277.8,284.9 280.3,285.8 281.5,286.0 283.0,285.9 286.5,285.3 290.0,286.0 294.8,284.5 298.3,284.0 301.8,282.9 303.3,282.9 304.3,283.2 305.5,284.0 309.5,287.6 311.5,289.1 313.0,289.6 316.8,289.9 318.0,290.4 319.3,291.3 320.0,292.0 320.3,292.8 322.3,298.9 322.8,299.5 323.8,299.7 324.3,300.2 324.5,301.2 324.8,304.3 324.6,305.8 324.2,306.8 323.6,307.5 321.8,308.9 320.9,309.8 319.3,313.5 318.0,315.2 315.8,316.8 313.0,317.9 312.2,318.5 311.5,319.6 310.8,321.8 310.6,323.5 311.0,324.7 311.8,325.1 314.5,325.7 315.3,326.2 315.8,327.0 316.1,328.5 316.2,333.3 316.0,334.5 315.6,335.3 314.8,335.8 314.0,335.9 313.0,335.7 312.3,335.3 311.4,334.3 310.0,331.0 309.3,329.9 308.0,329.0 306.5,328.5 305.5,328.5 305.0,328.8 304.8,329.5 304.8,332.3 304.5,333.8 303.6,335.3 302.5,336.1 301.8,336.1 300.8,335.6 297.8,332.0 296.8,331.7 295.8,332.0 294.1,333.0 292.8,334.5 291.5,337.8 289.4,341.8 286.3,346.8 M299.5,340.1 298.8,340.2 298.0,340.1 297.8,339.8 297.8,339.3 298.7,338.8 299.8,338.8 300.1,339.0 300.2,339.5 299.5,340.1 M258.0,286.2 259.0,285.8 261.5,284.3 263.0,283.8 264.5,283.8 266.0,284.2 267.1,284.8 268.8,286.3 269.8,286.5 271.0,286.1 274.3,283.8 277.0,282.9 278.5,282.8 281.5,283.4 282.8,283.5 288.3,282.3 289.3,282.5 291.0,283.2 292.5,283.3 297.5,282.6 301.0,281.4 302.8,281.2 303.8,281.3 304.8,281.8 308.8,285.4 311.0,286.7 313.0,287.1 315.8,286.8 316.8,286.8 317.8,287.2 320.0,288.6 321.0,288.8 323.0,288.9 323.8,289.5 324.0,290.8 323.5,293.3 323.5,294.3 323.8,294.8 325.3,296.4 325.9,298.5 325.9,300.8 325.5,306.0 325.2,307.3 324.8,308.2 322.8,310.0 322.0,311.0 320.9,315.0 318.5,319.8 318.4,321.0 318.7,324.5 317.4,329.5 317.3,331.3 317.7,334.8 317.2,336.5 316.5,337.2 315.3,337.6 312.8,337.7 311.5,337.5 310.5,336.5 308.8,332.8 308.3,332.4 307.5,332.2 307.0,332.5 306.5,333.4 305.0,339.5 304.6,340.3 304.0,341.0 301.8,341.9 297.5,342.4 296.0,342.2 293.8,341.0 292.5,341.0 291.8,341.4 291.0,342.1 287.6,346.8 M295.8,336.5 297.0,336.0 297.4,335.3 297.3,334.3 296.5,333.7 296.0,333.7 295.3,334.0 294.5,335.0 294.5,335.8 294.8,336.3 295.8,336.5 M258.0,284.8 261.0,283.1 262.3,282.7 268.0,282.5 271.3,281.7 276.8,281.0 279.0,280.9 284.0,281.3 285.5,281.0 288.3,280.0 289.5,279.8 290.6,280.0 293.0,281.0 295.3,281.2 297.3,280.9 300.8,279.6 304.3,279.3 305.5,279.5 306.5,280.0 308.3,283.0 309.3,283.9 310.3,284.5 311.3,284.8 312.3,284.9 316.5,283.9 318.3,283.8 319.0,284.1 321.0,285.8 324.3,286.7 325.2,287.8 325.6,289.0 325.9,293.0 326.6,296.5 326.7,299.3 326.0,307.8 325.5,309.3 324.1,311.8 323.8,313.3 323.8,316.3 324.5,319.3 324.5,320.3 324.3,321.1 322.8,323.0 321.7,325.8 319.7,328.3 319.0,329.6 318.8,331.5 319.6,335.5 319.4,337.0 318.8,338.5 318.3,339.1 317.5,339.5 314.8,339.7 313.3,340.2 312.4,340.8 310.6,342.5 309.5,343.1 308.3,343.3 304.8,343.0 301.5,343.2 299.2,343.5 295.8,344.5 293.0,344.7 291.8,345.2 289.9,346.8" fill="none" stroke="#000" stroke-width="0.5" stroke-linejoin="round"/></g>
<clipPath id="g1a"><rect x="328.4" y="73.5" width="23.200000000000045" height="29.700000000000003"/></clipPath><g clip-path="url(#g1a)"><path d="M334.4,94.8 333.4,94.7 332.9,94.2 332.8,93.7 334.0,90.5 333.9,90.0 333.0,88.5 332.7,87.0 333.1,84.5 333.6,83.5 335.9,82.1 338.1,81.9 340.6,82.4 342.9,83.4 343.7,84.2 344.3,85.5 344.4,88.0 344.1,89.0 343.2,89.7 340.2,91.2 337.9,93.3 334.4,94.8 M335.1,94.0 334.1,94.0 333.8,93.7 333.6,93.2 333.7,92.5 334.6,90.2 334.5,89.5 333.6,88.0 333.3,87.0 333.3,85.7 334.0,84.2 334.6,83.7 335.9,83.0 338.1,82.5 340.4,82.8 342.3,83.7 343.3,84.7 343.8,85.7 343.8,87.2 343.4,88.6 342.4,89.5 339.8,91.0 337.7,93.0 335.1,94.0 M335.6,93.3 334.9,93.3 334.5,92.7 334.6,92.0 335.4,89.7 334.0,87.2 333.9,86.2 334.3,85.2 335.5,84.0 337.4,83.2 339.4,83.2 341.4,83.9 342.4,84.7 343.0,85.7 343.0,87.0 342.7,88.0 341.8,89.0 337.4,92.4 335.6,93.3 M336.6,92.0 335.9,92.0 335.7,91.7 336.5,89.5 335.0,87.0 335.0,86.2 335.3,85.5 336.1,84.6 337.6,84.0 339.1,84.0 340.6,84.4 341.4,85.0 341.9,85.7 342.1,86.5 341.8,87.5 340.8,88.7 336.6,92.0 M339.1,88.3 338.4,88.4 337.9,88.2 336.7,87.2 336.6,86.2 337.1,85.5 337.9,85.1 338.9,85.1 339.9,85.5 340.4,86.0 340.5,86.5 340.4,87.2 339.9,87.9 339.1,88.3" fill="none" stroke="#000" stroke-width="0.5" stroke-linejoin="round"/></g>
<clipPath id="g1b"><rect x="328.4" y="103.2" width="23.200000000000045" height="44.3"/></clipPath><g clip-path="url(#g1b)"><path d="M338.3,149.4 333.9,147.0 333.0,146.1 332.3,144.9 332.5,141.1 333.2,138.1 332.8,135.9 333.1,134.1 333.0,131.6 332.7,129.6 333.2,127.7 332.9,125.9 333.0,125.2 334.1,123.3 335.5,120.2 337.0,117.9 337.1,117.2 336.7,114.4 337.2,112.4 337.6,111.9 338.6,111.4 340.9,111.0 342.1,111.3 343.1,111.8 343.9,112.7 344.2,113.7 344.3,114.9 344.0,115.9 343.1,117.8 341.6,119.9 341.3,120.9 341.5,121.4 342.0,121.9 344.4,122.9 344.7,124.2 345.9,126.4 346.1,127.7 346.0,129.4 346.4,131.4 346.5,134.6 346.1,137.4 346.5,139.1 346.8,142.4 345.6,145.4 343.6,148.0 341.6,148.9 339.3,149.4 M339.4,148.4 338.6,148.4 337.9,148.2 334.1,146.1 333.3,144.9 333.2,142.1 334.1,137.6 333.7,132.6 333.8,129.6 334.2,127.4 334.0,125.4 335.5,121.2 337.6,117.7 337.6,116.9 337.2,114.7 337.5,113.2 338.0,112.4 338.6,112.0 340.6,111.5 341.6,111.7 342.6,112.2 343.3,112.9 343.7,113.9 343.8,114.7 343.5,115.7 341.1,119.3 340.6,121.7 340.9,122.6 344.0,125.9 345.0,127.7 345.4,131.1 345.5,134.1 344.9,137.4 345.7,139.6 345.9,142.1 345.7,143.4 345.3,144.6 343.9,146.5 342.1,147.8 339.4,148.4 M340.9,147.2 339.6,147.3 338.4,147.2 336.3,146.4 335.4,145.6 334.7,144.6 334.1,142.6 334.3,141.1 335.3,137.4 334.7,131.9 334.8,130.1 335.5,126.7 335.3,124.4 335.5,123.2 336.3,120.9 338.5,117.4 338.5,116.7 338.0,114.9 338.1,113.7 338.9,112.7 340.4,112.2 341.4,112.3 342.4,112.9 342.9,113.7 343.1,114.7 342.6,115.9 340.6,118.4 339.5,122.7 339.5,123.7 339.8,124.2 341.4,125.0 342.4,125.9 343.2,127.2 343.9,128.9 344.3,132.1 343.7,137.4 344.7,141.1 344.9,142.4 344.6,143.9 343.8,145.4 342.6,146.4 340.9,147.2 M340.9,116.2 340.4,116.4 339.9,116.2 339.2,115.2 339.1,114.4 339.3,113.9 340.1,113.3 341.1,113.4 341.9,114.2 341.8,115.2 340.9,116.2 M337.4,123.5 336.9,123.4 336.6,123.0 336.9,121.5 337.9,119.9 338.4,119.6 338.9,119.5 339.1,120.2 338.8,121.4 338.1,122.8 337.4,123.5 M340.4,146.2 338.6,146.2 336.9,145.4 335.8,144.1 335.4,142.6 335.6,141.1 337.0,137.4 337.0,136.4 336.2,132.6 336.4,129.9 336.9,128.6 337.6,127.5 338.4,126.9 339.4,126.6 340.4,126.8 341.4,127.6 342.1,128.6 342.6,129.9 342.8,132.6 342.0,136.4 342.0,137.4 343.4,140.9 343.6,142.1 343.5,143.4 342.9,144.7 341.8,145.6 340.4,146.2 M339.6,144.6 338.9,144.6 338.0,144.1 337.4,143.4 337.2,142.6 337.3,141.6 337.7,140.9 338.4,140.2 339.4,139.8 340.4,140.0 341.1,140.6 341.6,141.4 341.8,142.4 341.7,143.1 341.3,143.9 340.6,144.4 339.6,144.6" fill="none" stroke="#000" stroke-width="0.5" stroke-linejoin="round"/></g>
<clipPath id="g2b"><rect x="329.2" y="201.6" width="22.30000000000001" height="43.599999999999994"/></clipPath><g clip-path="url(#g2b)"><path d="M334.4,247.2 331.8,244.7 331.3,243.7 331.2,242.9 333.2,240.2 333.7,238.9 334.1,234.9 334.0,230.2 335.1,226.7 335.7,222.9 338.0,219.3 338.5,219.0 339.0,218.9 340.2,219.1 341.0,219.5 343.2,222.2 344.5,229.2 345.0,238.7 345.5,239.9 347.1,242.4 347.6,243.7 347.6,244.4 347.2,245.2 344.6,247.2 M335.5,247.2 333.1,244.9 332.6,243.9 332.5,243.2 332.9,242.2 334.3,240.2 334.8,238.9 335.2,230.9 335.7,228.2 336.3,225.6 337.0,224.0 337.7,222.7 338.5,222.0 339.5,221.6 340.5,221.9 341.2,222.7 342.0,223.9 342.7,225.6 343.3,228.2 343.8,231.2 344.2,238.9 344.7,240.2 346.1,242.2 346.5,243.2 346.4,244.2 345.9,244.9 343.5,247.2 M337.1,247.2 334.4,244.9 333.8,243.9 333.7,243.2 334.1,242.2 335.5,239.9 335.9,238.9 336.2,232.4 337.0,228.2 338.2,225.7 338.7,225.2 339.5,224.9 340.2,225.2 340.7,225.6 341.5,226.9 342.0,228.2 342.8,232.4 343.1,238.9 343.5,239.9 344.9,242.2 345.3,243.2 345.1,244.2 344.6,244.9 341.9,247.2 M340.2,246.5 338.7,246.5 337.0,245.8 335.7,244.7 335.1,243.4 335.5,242.2 336.9,240.2 337.4,239.2 337.6,238.2 337.7,234.4 338.0,232.4 338.7,230.5 339.5,229.9 340.0,230.1 340.4,230.7 341.0,232.4 341.3,234.4 341.4,237.9 341.6,239.2 342.1,240.2 343.5,242.2 343.9,243.2 343.7,244.2 343.0,245.0 341.7,245.9 340.2,246.5 M340.0,245.0 339.0,245.0 338.2,244.7 337.5,244.2 337.2,243.7 337.1,242.9 337.5,242.3 338.2,241.6 339.0,241.2 339.7,241.1 340.7,241.5 341.5,242.2 341.9,242.9 341.8,243.7 341.5,244.2 340.9,244.7 340.0,245.0" fill="none" stroke="#000" stroke-width="0.5" stroke-linejoin="round"/></g>
<clipPath id="g3a"><rect x="330.4" y="270.5" width="22.30000000000001" height="29.30000000000001"/></clipPath><g clip-path="url(#g3a)"><path d="M335.7,299.1 334.9,298.9 334.3,298.1 334.0,295.8 332.8,292.3 332.8,291.0 333.7,287.3 335.2,285.0 336.4,283.9 340.9,281.4 341.9,281.3 342.7,281.4 345.8,283.0 346.7,283.9 347.6,288.3 347.4,290.5 345.4,294.4 341.4,298.3 340.2,298.7 337.4,298.5 335.7,299.1 M339.4,297.6 336.4,297.4 335.4,296.9 333.9,293.8 333.5,292.3 333.5,291.0 334.6,287.3 336.2,285.0 339.2,283.1 340.9,282.3 341.9,282.2 344.3,283.3 345.8,284.8 346.6,287.3 346.5,290.0 345.3,293.0 344.0,294.8 341.2,296.9 339.4,297.6 M339.7,296.4 338.4,296.5 337.4,296.3 336.4,295.9 335.5,295.1 334.9,294.0 334.5,292.8 334.4,291.5 334.6,290.0 335.7,287.3 337.7,285.0 338.9,284.2 340.2,283.7 341.4,283.5 342.4,283.6 343.9,284.4 345.0,285.8 345.6,287.8 345.4,290.0 344.5,292.3 343.3,294.0 341.7,295.5 339.7,296.4 M339.9,294.9 338.2,294.9 337.4,294.7 336.6,294.0 336.1,293.3 335.8,292.3 335.8,290.3 336.6,288.0 338.1,286.3 339.9,285.2 341.7,285.1 342.9,285.6 343.8,286.5 344.3,288.0 344.2,289.8 343.6,291.5 342.7,293.0 341.4,294.1 339.9,294.9 M339.7,292.8 338.7,292.7 337.9,292.1 337.6,291.0 337.7,289.8 338.3,288.5 339.2,287.7 340.2,287.2 341.2,287.3 341.9,287.8 342.2,288.3 342.4,289.0 342.3,290.0 341.4,291.8 340.7,292.4 339.7,292.8" fill="none" stroke="#000" stroke-width="0.5" stroke-linejoin="round"/></g>
<clipPath id="g3b"><rect x="330.4" y="299.8" width="22.30000000000001" height="44.89999999999998"/></clipPath><g clip-path="url(#g3b)"><path d="M341.7,314.2 341.2,314.1 341.1,313.8 341.4,313.4 341.7,313.4 341.9,313.8 341.7,314.2 M338.9,345.2 336.9,345.0 335.7,344.5 332.8,342.1 332.2,341.4 332.0,340.6 332.5,339.1 332.9,337.1 333.9,335.1 334.4,333.4 334.5,332.1 334.2,329.9 334.4,328.4 334.9,327.1 336.3,325.4 336.7,324.5 336.5,321.6 336.7,320.6 337.2,319.8 339.4,317.9 340.2,317.7 342.2,317.7 342.9,317.9 344.7,319.1 345.3,319.8 345.5,320.6 345.5,324.6 345.8,327.6 344.9,335.6 345.9,338.1 346.1,339.1 345.5,341.9 344.9,342.9 341.9,344.6 338.9,345.2 M340.2,344.4 338.2,344.5 336.2,344.0 333.7,341.9 333.3,341.4 333.1,340.6 333.7,337.4 334.7,335.1 335.1,333.4 335.0,330.1 335.2,328.6 335.6,327.6 336.9,326.0 337.5,324.6 337.1,321.8 337.2,320.8 337.9,319.8 339.2,318.7 339.9,318.3 340.9,318.2 342.4,318.4 343.4,318.9 344.4,319.6 345.0,320.6 345.0,321.8 344.6,324.6 344.9,327.6 344.1,335.6 344.3,336.4 345.2,338.1 345.3,338.9 345.0,341.1 344.3,342.4 342.2,343.8 340.2,344.4 M339.9,343.9 337.9,343.8 335.9,342.9 334.6,341.4 334.2,339.6 334.5,338.4 335.8,334.9 336.5,329.4 338.5,324.4 338.0,321.8 338.2,320.6 338.7,319.8 339.4,319.2 340.2,318.9 341.2,318.8 342.2,319.0 343.2,319.5 343.9,320.3 344.1,321.1 344.0,322.1 343.4,324.4 343.8,327.4 343.9,329.4 343.2,335.1 343.4,336.4 344.3,338.9 344.4,340.1 343.9,341.6 343.0,342.6 341.7,343.4 339.9,343.9 M340.9,323.9 340.2,323.5 339.5,322.8 339.1,322.1 338.9,321.3 339.1,320.6 339.7,320.0 340.4,319.6 341.2,319.5 341.9,319.7 342.7,320.2 343.1,320.8 343.2,321.6 342.9,322.3 342.4,323.1 341.7,323.7 340.9,323.9 M339.9,342.9 338.2,342.9 336.7,342.2 335.7,341.1 335.4,339.6 335.7,338.4 337.1,335.1 337.4,331.1 338.1,328.6 338.7,327.4 339.4,326.4 340.2,325.7 340.9,325.6 341.4,325.8 341.9,326.4 342.6,328.4 342.6,330.9 341.9,335.4 342.1,336.4 343.1,338.9 343.2,339.9 343.0,340.9 342.3,341.9 341.2,342.6 339.9,342.9 M341.2,321.6 340.9,321.6 340.7,321.3 340.8,321.1 341.3,321.1 341.4,321.3 341.2,321.6 M340.2,341.4 339.2,341.6 338.3,341.4 337.6,340.9 337.1,340.1 337.1,339.4 337.5,338.4 338.2,337.5 338.9,337.1 339.4,337.0 340.2,337.3 340.9,338.1 341.4,339.1 341.3,340.4 340.9,340.9 340.2,341.4" fill="none" stroke="#000" stroke-width="0.5" stroke-linejoin="round"/></g>
<rect x="162.8" y="53.8" width="194.0" height="93.7" stroke="#555" stroke-width="1.1" fill="none"/>
<line x1="260.0" y1="53.8" x2="260.0" y2="147.5" stroke="#555" stroke-width="1.1"/>
<rect x="162.8" y="152.2" width="194.0" height="93.0" stroke="#555" stroke-width="1.1" fill="none"/>
<line x1="260.0" y1="152.2" x2="260.0" y2="245.2" stroke="#555" stroke-width="1.1"/>
<rect x="162.8" y="251.0" width="194.0" height="93.69999999999999" stroke="#555" stroke-width="1.1" fill="none"/>
<line x1="260.0" y1="251.0" x2="260.0" y2="344.7" stroke="#555" stroke-width="1.1"/>
<rect x="328.4" y="73.5" width="23.200000000000045" height="74.0" stroke="#222" stroke-width="1.2" fill="none"/>
<line x1="328.4" y1="103.2" x2="351.6" y2="103.2" stroke="#222" stroke-width="1.2"/>
<rect x="329.2" y="171.8" width="22.30000000000001" height="73.39999999999998" stroke="#222" stroke-width="1.2" fill="none"/>
<line x1="329.2" y1="201.6" x2="351.5" y2="201.6" stroke="#222" stroke-width="1.2"/>
<rect x="330.4" y="270.5" width="22.30000000000001" height="74.19999999999999" stroke="#222" stroke-width="1.2" fill="none"/>
<line x1="330.4" y1="299.8" x2="352.7" y2="299.8" stroke="#222" stroke-width="1.2"/>
<text x="353.0" y="95.7" font-size="9.6" font-weight="normal" textLength="20.0" lengthAdjust="spacingAndGlyphs" >0.25</text>
<text x="353.5" y="128.1" font-size="9.6" font-weight="normal" textLength="19.7" lengthAdjust="spacingAndGlyphs" >0.35</text>
<text x="353.5" y="191.9" font-size="9.6" font-weight="normal" textLength="14.6" lengthAdjust="spacingAndGlyphs" >0.0</text>
<text x="354.0" y="224.9" font-size="9.6" font-weight="normal" textLength="13.3" lengthAdjust="spacingAndGlyphs" >1.2</text>
<text x="354.6" y="291.8" font-size="9.6" font-weight="normal" textLength="14.3" lengthAdjust="spacingAndGlyphs" >0.2</text>
<text x="355.0" y="323.8" font-size="9.6" font-weight="normal" textLength="13.9" lengthAdjust="spacingAndGlyphs" >0.3</text>
<text x="163.3" y="355.8" font-size="10" font-weight="bold" textLength="30.6" lengthAdjust="spacingAndGlyphs" >MHC II</text>
<text x="0" y="0" font-size="10.5" font-weight="bold" textLength="31" lengthAdjust="spacingAndGlyphs" transform="translate(159.6,345.4) rotate(-90)">Ly 5.2</text>
<line x1="359" y1="78.7" x2="388" y2="78.7" stroke="#222" stroke-width="1.3"/>
<polyline points="380.2,74.8 388.7,78.7 380.2,82.8" fill="none" stroke="#111" stroke-width="1.4"/>
<polyline points="402.4,0.8 391.4,0.8 391.4,176.5 402.7,176.5" fill="none" stroke="#222" stroke-width="1.3"/>
<rect x="409.7" y="0.8" width="107.80000000000001" height="13.5" stroke="#555" stroke-width="1.1" fill="none"/>
<text x="413.7" y="11" font-size="10" font-weight="bold" textLength="31.1" lengthAdjust="spacingAndGlyphs" >MHC II</text>
<line x1="446.1" y1="3.8" x2="451.1" y2="3.8" stroke="#111" stroke-width="1.2"/>
<line x1="448.6" y1="1.5" x2="448.6" y2="6.1" stroke="#111" stroke-width="1.2"/>
<text x="454.6" y="11" font-size="10" font-weight="bold" textLength="30.2" lengthAdjust="spacingAndGlyphs" >Ly 5.2</text>
<line x1="485.5" y1="3.8" x2="490.29999999999995" y2="3.8" stroke="#111" stroke-width="1.2"/>
<line x1="487.9" y1="1.5" x2="487.9" y2="6.1" stroke="#111" stroke-width="1.2"/>
<text x="492.5" y="11" font-size="10" font-weight="bold" textLength="21.2" lengthAdjust="spacingAndGlyphs" >LCs</text>
<polygon points="400.6,70.8 400.6,32.7 401.1,32.7 401.1,33.8 401.6,33.8 401.6,34.2 402.1,34.2 402.1,43.9 402.6,43.9 402.6,44.2 403.1,44.2 403.1,46.2 403.6,46.2 403.6,44.2 404.1,44.2 404.1,44.4 404.6,44.4 404.6,46.6 405.1,46.6 405.1,46.0 405.6,46.0 405.6,45.5 406.1,45.5 406.1,46.1 406.6,46.1 406.6,46.6 407.1,46.6 407.1,45.9 407.6,45.9 407.6,45.7 408.1,45.7 408.1,47.5 408.6,47.5 408.6,47.4 409.1,47.4 409.1,47.2 409.6,47.2 409.6,48.1 410.1,48.1 410.1,47.6 410.6,47.6 410.6,48.6 411.1,48.6 411.1,46.7 411.6,46.7 411.6,47.4 412.1,47.4 412.1,47.2 412.6,47.2 412.6,46.8 413.1,46.8 413.1,47.3 413.6,47.3 413.6,46.4 414.1,46.4 414.1,47.8 414.6,47.8 414.6,48.0 415.1,48.0 415.1,46.4 415.6,46.4 415.6,47.3 416.1,47.3 416.1,47.0 416.6,47.0 416.6,46.6 417.1,46.6 417.1,48.7 417.6,48.7 417.6,47.7 418.1,47.7 418.1,47.2 418.6,47.2 418.6,48.5 419.1,48.5 419.1,47.4 419.6,47.4 419.6,49.2 420.1,49.2 420.1,47.6 420.6,47.6 420.6,47.2 421.1,47.2 421.1,47.7 421.6,47.7 421.6,48.1 422.1,48.1 422.1,48.5 422.6,48.5 422.6,49.7 423.1,49.7 423.1,49.4 423.6,49.4 423.6,48.7 424.1,48.7 424.1,48.1 424.6,48.1 424.6,48.7 425.1,48.7 425.1,50.9 425.6,50.9 425.6,49.8 426.1,49.8 426.1,50.6 426.6,50.6 426.6,49.5 427.1,49.5 427.1,50.0 427.6,50.0 427.6,52.4 428.1,52.4 428.1,52.4 428.6,52.4 428.6,52.4 429.1,52.4 429.1,53.2 429.6,53.2 429.6,53.4 430.1,53.4 430.1,54.3 430.6,54.3 430.6,54.6 431.1,54.6 431.1,57.1 431.6,57.1 431.6,56.8 432.1,56.8 432.1,56.6 432.6,56.6 432.6,58.6 433.1,58.6 433.1,57.8 433.6,57.8 433.6,57.9 434.1,57.9 434.1,59.6 434.6,59.6 434.6,60.6 435.1,60.6 435.1,59.0 435.6,59.0 435.6,61.6 436.1,61.6 436.1,60.9 436.6,60.9 436.6,61.4 437.1,61.4 437.1,62.0 437.6,62.0 437.6,63.4 438.1,63.4 438.1,65.2 438.6,65.2 438.6,65.4 439.1,65.4 439.1,66.9 439.6,66.9 439.6,65.9 440.1,65.9 440.1,66.7 440.6,66.7 440.6,67.0 441.1,67.0 441.1,69.2 441.6,69.2 441.6,69.4 442.1,69.4 442.1,68.3 442.6,68.3 442.6,68.8 443.1,68.8 443.1,68.8 443.6,68.8 443.6,70.1 444.1,70.1 444.1,68.7 444.6,68.7 444.6,69.0 445.1,69.0 445.1,70.8" fill="#000" stroke="none"/>
<path d="M405.3,46.7V44.7 M408.9,48.1V42.7 M410.1,48.5V46.2 M411.4,48.3V44.8 M412.6,48.2V46.7 M413.5,48.1V43.1 M414.6,48.1V45.8 M415.8,48.5V43.7 M417.9,49.0V46.7 M419.0,49.1V47.6 M427.4,52.4V50.5 M430.2,56.2V53.0 M432.4,58.8V56.5 M433.4,59.8V54.9 M436.2,62.8V58.2" stroke="#1a1a1a" stroke-width="0.7" fill="none"/>
<path d="M400.9,34.7V29.3 M403.0,46.1V40.0 M404.8,46.6V35.2 M407.0,47.4V41.0 M409.0,48.1V44.0 M411.2,48.4V38.2 M413.8,48.0V38.6 M415.5,48.4V44.0 M417.6,48.9V44.0 M420.0,49.2V44.5 M422.8,49.8V40.7 M425.0,50.6V46.0 M427.8,52.8V43.2 M430.0,56.0V52.0 M434.8,60.9V51.0 M436.5,63.2V60.0" stroke="#111" stroke-width="1.0" fill="none"/>
<path d="M447,70.8L449.0,70.0L451,70.8Z M456,70.8L457.5,70.0L459,70.8Z M468,70.8L469.5,70.0L471,70.8Z M474,70.8L475.5,70.0L477,70.8Z M478,70.8L479.5,70.0L481,70.8Z" fill="#222" stroke="none"/>
<line x1="400.5" y1="70.8" x2="516" y2="70.8" stroke="#333" stroke-width="1"/>
<polygon points="450.2,117.4 450.2,116.8 450.7,116.8 450.7,117.4 451.2,117.4 451.2,115.8 451.7,115.8 451.7,115.3 452.2,115.3 452.2,115.3 452.7,115.3 452.7,114.6 453.2,114.6 453.2,115.4 453.7,115.4 453.7,114.1 454.2,114.1 454.2,116.0 454.7,116.0 454.7,115.9 455.2,115.9 455.2,113.8 455.7,113.8 455.7,115.1 456.2,115.1 456.2,114.1 456.7,114.1 456.7,114.4 457.2,114.4 457.2,114.8 457.7,114.8 457.7,114.9 458.2,114.9 458.2,114.5 458.7,114.5 458.7,114.6 459.2,114.6 459.2,112.0 459.7,112.0 459.7,110.9 460.2,110.9 460.2,111.4 460.7,111.4 460.7,112.1 461.2,112.1 461.2,112.0 461.7,112.0 461.7,111.9 462.2,111.9 462.2,109.6 462.7,109.6 462.7,110.6 463.2,110.6 463.2,109.0 463.7,109.0 463.7,108.5 464.2,108.5 464.2,106.6 464.7,106.6 464.7,105.6 465.2,105.6 465.2,106.5 465.7,106.5 465.7,105.7 466.2,105.7 466.2,105.5 466.7,105.5 466.7,103.6 467.2,103.6 467.2,102.9 467.7,102.9 467.7,103.9 468.2,103.9 468.2,101.6 468.7,101.6 468.7,103.4 469.2,103.4 469.2,100.9 469.7,100.9 469.7,101.5 470.2,101.5 470.2,100.6 470.7,100.6 470.7,99.9 471.2,99.9 471.2,98.8 471.7,98.8 471.7,99.3 472.2,99.3 472.2,98.6 472.7,98.6 472.7,97.1 473.2,97.1 473.2,95.8 473.7,95.8 473.7,95.1 474.2,95.1 474.2,93.8 474.7,93.8 474.7,93.0 475.2,93.0 475.2,92.9 475.7,92.9 475.7,90.5 476.2,90.5 476.2,88.4 476.7,88.4 476.7,88.2 477.2,88.2 477.2,87.1 477.7,87.1 477.7,85.9 478.2,85.9 478.2,86.5 478.7,86.5 478.7,85.9 479.2,85.9 479.2,85.9 479.7,85.9 479.7,83.3 480.2,83.3 480.2,85.2 480.7,85.2 480.7,84.9 481.2,84.9 481.2,85.4 481.7,85.4 481.7,86.7 482.2,86.7 482.2,87.1 482.7,87.1 482.7,87.6 483.2,87.6 483.2,88.1 483.7,88.1 483.7,90.6 484.2,90.6 484.2,91.2 484.7,91.2 484.7,91.2 485.2,91.2 485.2,94.8 485.7,94.8 485.7,98.5 486.2,98.5 486.2,101.6 486.7,101.6 486.7,104.5 487.2,104.5 487.2,105.0 487.7,105.0 487.7,108.7 488.2,108.7 488.2,110.4 488.7,110.4 488.7,111.0 489.2,111.0 489.2,112.4 489.7,112.4 489.7,113.2 490.2,113.2 490.2,113.7 490.7,113.7 490.7,116.0 491.2,116.0 491.2,115.6 491.7,115.6 491.7,116.7 492.2,116.7 492.2,115.3 492.7,115.3 492.7,117.4 493.2,117.4 493.2,117.1 493.7,117.1 493.7,117.4 494.2,117.4 494.2,117.1 494.7,117.1 494.7,116.9 495.2,116.9 495.2,116.4 495.7,116.4 495.7,117.4" fill="#000" stroke="none"/>
<path d="M452.0,116.9V114.9 M456.9,116.0V113.3 M457.9,116.0V112.5 M458.9,114.3V111.8 M460.2,112.0V110.0 M461.0,112.0V108.8 M465.1,106.9V103.6 M467.4,104.6V102.6 M472.8,97.3V94.1 M475.4,92.6V89.0 M476.7,88.0V85.0 M477.9,87.0V84.3 M478.7,86.3V84.0 M481.1,86.4V83.6 M482.1,87.8V83.8 M487.4,107.3V103.8" stroke="#1a1a1a" stroke-width="0.7" fill="none"/>
<path d="M453.5,116.0V112.5 M460.5,112.0V108.5 M464.5,107.5V105.5 M467.0,105.0V102.5 M470.0,102.0V99.0 M474.0,95.1V92.5 M477.3,87.0V77.3 M480.5,85.7V80.5 M482.0,87.6V82.5 M483.5,90.2V85.0 M485.5,97.7V88.0 M487.0,105.7V101.0" stroke="#111" stroke-width="1.0" fill="none"/>
<polyline points="401.2,75.4 401.2,117.4 516,117.4" fill="none" stroke="#555" stroke-width="1"/>
<polygon points="401.0,164.3 401.0,132.9 401.5,132.9 401.5,134.9 402.0,134.9 402.0,136.7 402.5,136.7 402.5,137.2 403.0,137.2 403.0,138.6 403.5,138.6 403.5,142.1 404.0,142.1 404.0,141.3 404.5,141.3 404.5,139.8 405.0,139.8 405.0,142.0 405.5,142.0 405.5,142.2 406.0,142.2 406.0,141.2 406.5,141.2 406.5,143.1 407.0,143.1 407.0,142.0 407.5,142.0 407.5,143.4 408.0,143.4 408.0,144.8 408.5,144.8 408.5,144.3 409.0,144.3 409.0,145.0 409.5,145.0 409.5,146.6 410.0,146.6 410.0,150.8 410.5,150.8 410.5,145.5 411.0,145.5 411.0,140.4 411.5,140.4 411.5,141.9 412.0,141.9 412.0,142.7 412.5,142.7 412.5,141.8 413.0,141.8 413.0,142.6 413.5,142.6 413.5,142.2 414.0,142.2 414.0,138.9 414.5,138.9 414.5,139.2 415.0,139.2 415.0,139.1 415.5,139.1 415.5,137.1 416.0,137.1 416.0,137.3 416.5,137.3 416.5,138.1 417.0,138.1 417.0,138.5 417.5,138.5 417.5,138.3 418.0,138.3 418.0,139.3 418.5,139.3 418.5,139.0 419.0,139.0 419.0,141.6 419.5,141.6 419.5,141.6 420.0,141.6 420.0,140.6 420.5,140.6 420.5,142.3 421.0,142.3 421.0,141.2 421.5,141.2 421.5,140.3 422.0,140.3 422.0,140.6 422.5,140.6 422.5,141.0 423.0,141.0 423.0,141.2 423.5,141.2 423.5,143.4 424.0,143.4 424.0,144.8 424.5,144.8 424.5,145.3 425.0,145.3 425.0,143.6 425.5,143.6 425.5,143.3 426.0,143.3 426.0,142.1 426.5,142.1 426.5,141.9 427.0,141.9 427.0,140.7 427.5,140.7 427.5,140.4 428.0,140.4 428.0,140.5 428.5,140.5 428.5,140.3 429.0,140.3 429.0,138.5 429.5,138.5 429.5,139.6 430.0,139.6 430.0,140.5 430.5,140.5 430.5,140.7 431.0,140.7 431.0,142.9 431.5,142.9 431.5,143.6 432.0,143.6 432.0,144.0 432.5,144.0 432.5,140.9 433.0,140.9 433.0,142.0 433.5,142.0 433.5,143.2 434.0,143.2 434.0,143.7 434.5,143.7 434.5,144.0 435.0,144.0 435.0,146.7 435.5,146.7 435.5,144.7 436.0,144.7 436.0,144.6 436.5,144.6 436.5,144.9 437.0,144.9 437.0,143.8 437.5,143.8 437.5,145.7 438.0,145.7 438.0,147.1 438.5,147.1 438.5,147.6 439.0,147.6 439.0,147.2 439.5,147.2 439.5,147.0 440.0,147.0 440.0,145.8 440.5,145.8 440.5,145.2 441.0,145.2 441.0,147.6 441.5,147.6 441.5,148.4 442.0,148.4 442.0,149.8 442.5,149.8 442.5,150.4 443.0,150.4 443.0,149.2 443.5,149.2 443.5,148.4 444.0,148.4 444.0,149.4 444.5,149.4 444.5,151.3 445.0,151.3 445.0,150.9 445.5,150.9 445.5,152.6 446.0,152.6 446.0,152.2 446.5,152.2 446.5,151.9 447.0,151.9 447.0,150.9 447.5,150.9 447.5,153.5 448.0,153.5 448.0,156.0 448.5,156.0 448.5,155.7 449.0,155.7 449.0,157.2 449.5,157.2 449.5,156.9 450.0,156.9 450.0,157.4 450.5,157.4 450.5,157.6 451.0,157.6 451.0,157.7 451.5,157.7 451.5,159.2 452.0,159.2 452.0,159.0 452.5,159.0 452.5,159.1 453.0,159.1 453.0,161.2 453.5,161.2 453.5,160.9 454.0,160.9 454.0,161.7 454.5,161.7 454.5,162.9 455.0,162.9 455.0,162.2 455.5,162.2 455.5,162.0 456.0,162.0 456.0,161.6 456.5,161.6 456.5,162.8 457.0,162.8 457.0,163.4 457.5,163.4 457.5,162.8 458.0,162.8 458.0,163.0 458.5,163.0 458.5,162.0 459.0,162.0 459.0,162.0 459.5,162.0 459.5,162.1 460.0,162.1 460.0,162.4 460.5,162.4 460.5,163.4 461.0,163.4 461.0,162.4 461.5,162.4 461.5,161.8 462.0,161.8 462.0,162.7 462.5,162.7 462.5,162.0 463.0,162.0 463.0,163.0 463.5,163.0 463.5,162.3 464.0,162.3 464.0,163.8 464.5,163.8 464.5,162.9 465.0,162.9 465.0,164.2 465.5,164.2 465.5,164.3" fill="#000" stroke="none"/>
<path d="M403.1,141.1V139.0 M405.1,142.0V136.6 M406.2,142.9V139.5 M406.9,143.9V140.7 M407.9,144.9V139.6 M412.2,142.6V136.5 M417.0,139.0V136.2 M417.8,139.7V134.1 M422.8,142.6V138.6 M423.7,144.6V137.6 M426.4,142.0V138.3 M429.9,141.3V139.1 M431.1,144.2V141.5 M432.4,143.1V137.3 M434.4,145.6V140.1 M435.3,146.7V141.2 M436.7,145.3V140.1 M440.1,146.3V140.0 M441.3,149.4V146.3 M445.3,152.8V149.7 M447.4,153.7V148.7 M448.8,157.4V152.8" stroke="#1a1a1a" stroke-width="0.7" fill="none"/>
<path d="M401.3,134.2V122.0 M402.3,138.1V131.0 M404.2,142.0V137.5 M406.5,143.3V137.5 M408.6,145.6V134.0 M411.3,142.2V132.0 M413.0,143.0V139.0 M415.0,139.0V134.5 M417.0,139.0V134.0 M420.0,142.6V138.0 M422.8,142.7V125.0 M425.5,143.2V132.0 M427.8,141.7V136.0 M430.0,141.7V135.5 M433.0,142.0V134.7 M436.0,146.0V140.0 M437.5,146.8V139.6 M440.0,146.0V141.0 M442.5,150.2V144.0 M444.0,150.3V145.0 M446.5,152.3V149.0 M450.0,158.3V155.0 M454.0,162.6V160.0" stroke="#111" stroke-width="1.0" fill="none"/>
<path d="M470,164.3L473.0,163.10000000000002L476,164.3Z M485,164.3L487.5,163.3L490,164.3Z M501,164.3L502.5,163.3L504,164.3Z" fill="#222" stroke="none"/>
<polyline points="401,121 401,164.3 516,164.3" fill="none" stroke="#444" stroke-width="1"/>
<rect x="460.3" y="36.4" width="54.099999999999966" height="11.200000000000003" stroke="#555" stroke-width="1.1" fill="#fff"/>
<text x="466" y="45.1" font-size="8.5" font-weight="bold" textLength="41.5" lengthAdjust="spacingAndGlyphs" stroke-width="0.1" >CONTROL</text>
<rect x="406.3" y="80.4" width="47.39999999999998" height="11.199999999999989" stroke="#555" stroke-width="1.1" fill="#fff"/>
<text x="416.7" y="89.3" font-size="8.6" font-weight="bold" textLength="26.2" lengthAdjust="spacingAndGlyphs" stroke-width="0.1" >CD11c</text>
<rect x="467.5" y="129.2" width="47.299999999999955" height="12.300000000000011" stroke="#555" stroke-width="1.1" fill="#fff"/>
<text x="479.6" y="138.4" font-size="8.8" font-weight="normal" textLength="20.6" lengthAdjust="spacingAndGlyphs" stroke-width="0.25" >B220</text>
</svg>
</body></html>
